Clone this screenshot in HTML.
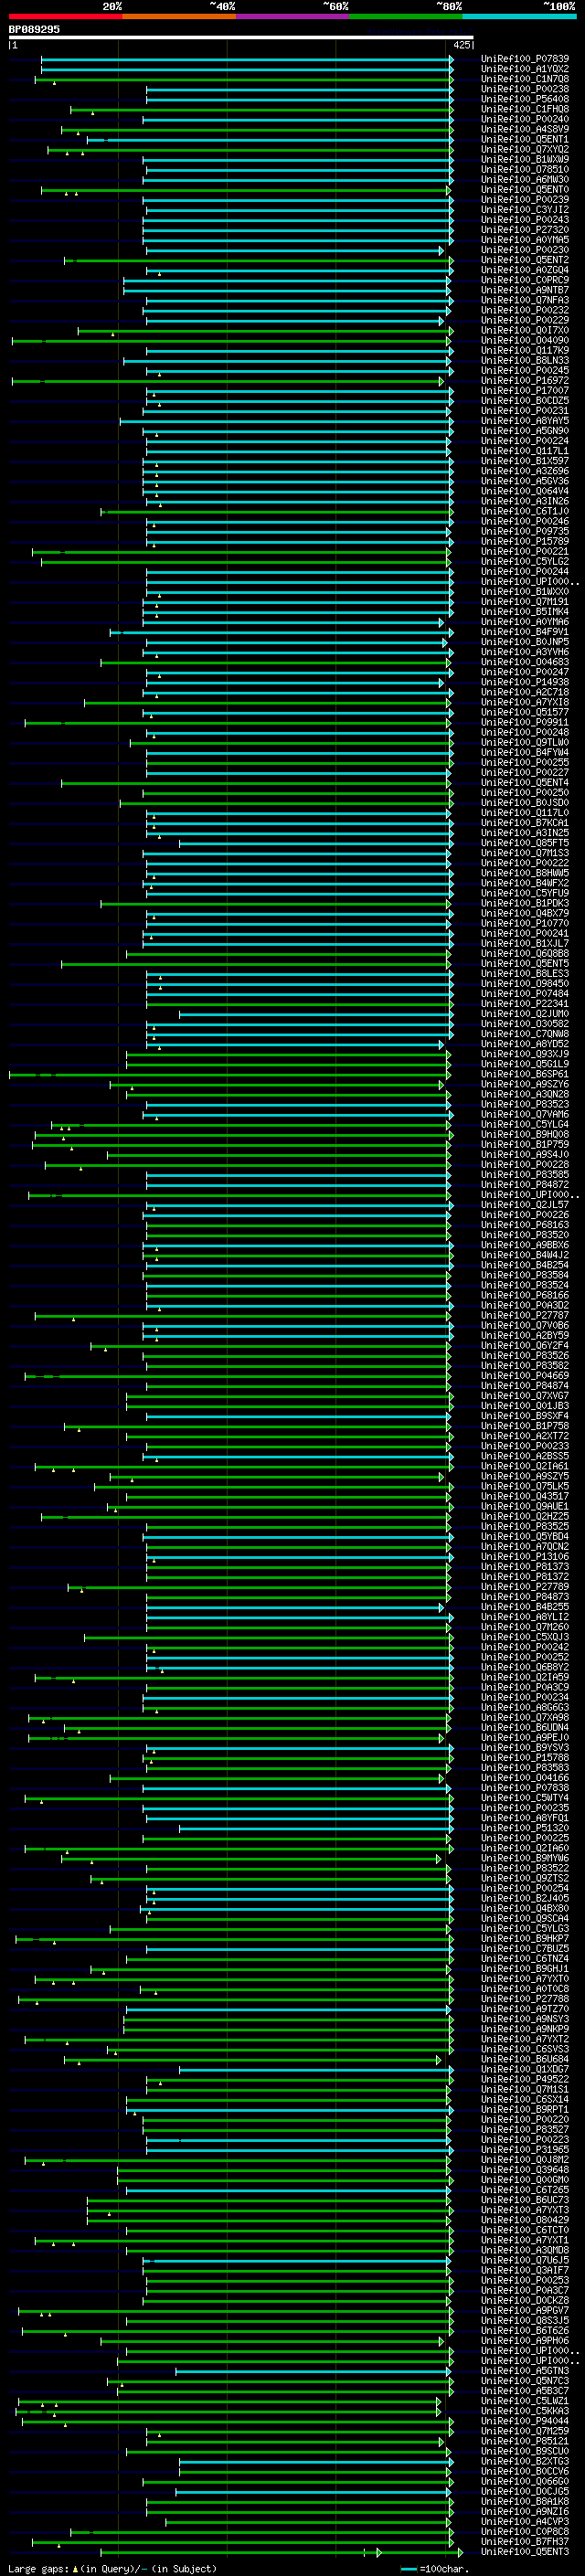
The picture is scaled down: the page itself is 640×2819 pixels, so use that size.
<!DOCTYPE html><html><head><meta charset="utf-8"><title>AlignView</title><style>html,body{margin:0;padding:0;background:#000;overflow:hidden;font-family:"Liberation Mono",monospace;}svg{display:block;}</style></head><body><svg width="640" height="2819" viewBox="0 0 640 2819" shape-rendering="crispEdges"><defs><symbol id="pre" overflow="visible"><path d="M0 3h1v1h-1zM4 3h1v1h-1zM0 4h1v1h-1zM4 4h1v1h-1zM0 5h1v1h-1zM4 5h1v1h-1zM0 6h1v1h-1zM4 6h1v1h-1zM0 7h1v1h-1zM4 7h1v1h-1zM0 8h1v1h-1zM4 8h1v1h-1zM0 9h1v1h-1zM4 9h1v1h-1zM1 10h3v1h-3zM6 5h1v1h-1zM8 5h2v1h-2zM6 6h2v1h-2zM10 6h1v1h-1zM6 7h1v1h-1zM10 7h1v1h-1zM6 8h1v1h-1zM10 8h1v1h-1zM6 9h1v1h-1zM10 9h1v1h-1zM6 10h1v1h-1zM10 10h1v1h-1zM14 3h1v1h-1zM13 5h2v1h-2zM14 6h1v1h-1zM14 7h1v1h-1zM14 8h1v1h-1zM14 9h1v1h-1zM13 10h3v1h-3zM18 3h4v1h-4zM18 4h1v1h-1zM22 4h1v1h-1zM18 5h1v1h-1zM22 5h1v1h-1zM18 6h1v1h-1zM22 6h1v1h-1zM18 7h4v1h-4zM18 8h1v1h-1zM20 8h1v1h-1zM18 9h1v1h-1zM21 9h1v1h-1zM18 10h1v1h-1zM22 10h1v1h-1zM25 5h3v1h-3zM24 6h1v1h-1zM28 6h1v1h-1zM24 7h5v1h-5zM24 8h1v1h-1zM24 9h1v1h-1zM25 10h3v1h-3zM32 3h2v1h-2zM31 4h1v1h-1zM34 4h1v1h-1zM31 5h1v1h-1zM31 6h1v1h-1zM30 7h4v1h-4zM31 8h1v1h-1zM31 9h1v1h-1zM31 10h1v1h-1zM38 3h1v1h-1zM37 4h2v1h-2zM36 5h1v1h-1zM38 5h1v1h-1zM38 6h1v1h-1zM38 7h1v1h-1zM38 8h1v1h-1zM38 9h1v1h-1zM36 10h5v1h-5zM44 3h1v1h-1zM43 4h1v1h-1zM45 4h1v1h-1zM42 5h1v1h-1zM46 5h1v1h-1zM42 6h1v1h-1zM46 6h1v1h-1zM42 7h1v1h-1zM46 7h1v1h-1zM42 8h1v1h-1zM46 8h1v1h-1zM43 9h1v1h-1zM45 9h1v1h-1zM44 10h1v1h-1zM50 3h1v1h-1zM49 4h1v1h-1zM51 4h1v1h-1zM48 5h1v1h-1zM52 5h1v1h-1zM48 6h1v1h-1zM52 6h1v1h-1zM48 7h1v1h-1zM52 7h1v1h-1zM48 8h1v1h-1zM52 8h1v1h-1zM49 9h1v1h-1zM51 9h1v1h-1zM50 10h1v1h-1zM54 11h5v1h-5z"/></symbol><symbol id="m50" overflow="visible"><path d="M1 3h4v1h-4zM0 4h2v1h-2zM4 4h2v1h-2zM0 5h2v1h-2zM4 5h2v1h-2zM4 6h2v1h-2zM2 7h3v1h-3zM1 8h2v1h-2zM0 9h2v1h-2zM0 10h6v1h-6z"/></symbol><symbol id="m48" overflow="visible"><path d="M1 3h4v1h-4zM0 4h2v1h-2zM4 4h2v1h-2zM0 5h2v1h-2zM4 5h2v1h-2zM0 6h2v1h-2zM3 6h3v1h-3zM0 7h3v1h-3zM4 7h2v1h-2zM0 8h2v1h-2zM4 8h2v1h-2zM0 9h2v1h-2zM4 9h2v1h-2zM1 10h4v1h-4z"/></symbol><symbol id="m37" overflow="visible"><path d="M0 2h3v1h-3zM5 2h1v1h-1zM0 3h1v1h-1zM2 3h1v1h-1zM4 3h2v1h-2zM0 4h3v1h-3zM4 4h1v1h-1zM3 5h2v1h-2zM2 6h2v1h-2zM1 7h2v1h-2zM1 8h1v1h-1zM3 8h3v1h-3zM0 9h2v1h-2zM3 9h1v1h-1zM5 9h1v1h-1zM0 10h1v1h-1zM3 10h3v1h-3z"/></symbol><symbol id="m126" overflow="visible"><path d="M1 2h2v1h-2zM5 2h1v1h-1zM0 3h6v1h-6zM0 4h1v1h-1zM3 4h2v1h-2z"/></symbol><symbol id="m52" overflow="visible"><path d="M4 3h2v1h-2zM3 4h3v1h-3zM2 5h4v1h-4zM1 6h2v1h-2zM4 6h2v1h-2zM0 7h2v1h-2zM4 7h2v1h-2zM0 8h6v1h-6zM4 9h2v1h-2zM4 10h2v1h-2z"/></symbol><symbol id="m54" overflow="visible"><path d="M1 3h4v1h-4zM0 4h2v1h-2zM4 4h2v1h-2zM0 5h2v1h-2zM0 6h5v1h-5zM0 7h2v1h-2zM4 7h2v1h-2zM0 8h2v1h-2zM4 8h2v1h-2zM0 9h2v1h-2zM4 9h2v1h-2zM1 10h4v1h-4z"/></symbol><symbol id="m56" overflow="visible"><path d="M1 3h4v1h-4zM0 4h2v1h-2zM4 4h2v1h-2zM0 5h2v1h-2zM4 5h2v1h-2zM1 6h4v1h-4zM0 7h2v1h-2zM4 7h2v1h-2zM0 8h2v1h-2zM4 8h2v1h-2zM0 9h2v1h-2zM4 9h2v1h-2zM1 10h4v1h-4z"/></symbol><symbol id="m49" overflow="visible"><path d="M2 3h2v1h-2zM1 4h3v1h-3zM0 5h1v1h-1zM2 5h2v1h-2zM2 6h2v1h-2zM2 7h2v1h-2zM2 8h2v1h-2zM2 9h2v1h-2zM0 10h6v1h-6z"/></symbol><symbol id="m66" overflow="visible"><path d="M0 3h5v1h-5zM0 4h2v1h-2zM4 4h2v1h-2zM0 5h2v1h-2zM4 5h2v1h-2zM0 6h5v1h-5zM0 7h2v1h-2zM4 7h2v1h-2zM0 8h2v1h-2zM4 8h2v1h-2zM0 9h2v1h-2zM4 9h2v1h-2zM0 10h5v1h-5z"/></symbol><symbol id="m80" overflow="visible"><path d="M0 3h5v1h-5zM0 4h2v1h-2zM4 4h2v1h-2zM0 5h2v1h-2zM4 5h2v1h-2zM0 6h5v1h-5zM0 7h2v1h-2zM0 8h2v1h-2zM0 9h2v1h-2zM0 10h2v1h-2z"/></symbol><symbol id="m57" overflow="visible"><path d="M1 3h4v1h-4zM0 4h2v1h-2zM4 4h2v1h-2zM0 5h2v1h-2zM4 5h2v1h-2zM0 6h2v1h-2zM4 6h2v1h-2zM1 7h5v1h-5zM4 8h2v1h-2zM0 9h2v1h-2zM4 9h2v1h-2zM1 10h4v1h-4z"/></symbol><symbol id="m53" overflow="visible"><path d="M0 3h6v1h-6zM0 4h2v1h-2zM0 5h5v1h-5zM0 6h2v1h-2zM4 6h2v1h-2zM4 7h2v1h-2zM4 8h2v1h-2zM0 9h2v1h-2zM4 9h2v1h-2zM1 10h4v1h-4z"/></symbol><symbol id="t65" overflow="visible"><path d="M1 1h2v1h-2zM0 2h1v1h-1zM3 2h1v1h-1zM0 3h1v1h-1zM3 3h1v1h-1zM0 4h4v1h-4zM0 5h1v1h-1zM3 5h1v1h-1zM0 6h1v1h-1zM3 6h1v1h-1z"/></symbol><symbol id="t108" overflow="visible"><path d="M1 1h2v1h-2zM2 2h1v1h-1zM2 3h1v1h-1zM2 4h1v1h-1zM2 5h1v1h-1zM1 6h3v1h-3z"/></symbol><symbol id="t105" overflow="visible"><path d="M2 1h1v1h-1zM1 3h2v1h-2zM2 4h1v1h-1zM2 5h1v1h-1zM1 6h3v1h-3z"/></symbol><symbol id="t103" overflow="visible"><path d="M1 3h3v1h-3zM0 4h1v1h-1zM3 4h1v1h-1zM1 5h3v1h-3zM3 6h1v1h-1zM1 7h2v1h-2z"/></symbol><symbol id="t110" overflow="visible"><path d="M0 3h1v1h-1zM2 3h1v1h-1zM0 4h2v1h-2zM3 4h1v1h-1zM0 5h1v1h-1zM3 5h1v1h-1zM0 6h1v1h-1zM3 6h1v1h-1z"/></symbol><symbol id="t86" overflow="visible"><path d="M0 1h1v1h-1zM3 1h1v1h-1zM0 2h1v1h-1zM3 2h1v1h-1zM0 3h1v1h-1zM3 3h1v1h-1zM0 4h1v1h-1zM3 4h1v1h-1zM1 5h2v1h-2zM1 6h2v1h-2z"/></symbol><symbol id="t101" overflow="visible"><path d="M1 3h2v1h-2zM0 4h1v1h-1zM2 4h2v1h-2zM0 5h2v1h-2zM1 6h3v1h-3z"/></symbol><symbol id="t119" overflow="visible"><path d="M0 3h1v1h-1zM4 3h1v1h-1zM0 4h1v1h-1zM2 4h1v1h-1zM4 4h1v1h-1zM0 5h1v1h-1zM2 5h1v1h-1zM4 5h1v1h-1zM1 6h3v1h-3z"/></symbol><symbol id="t46" overflow="visible"><path d="M1 5h2v1h-2zM1 6h2v1h-2z"/></symbol><symbol id="t112" overflow="visible"><path d="M0 3h3v1h-3zM0 4h1v1h-1zM3 4h1v1h-1zM0 5h3v1h-3zM0 6h1v1h-1zM0 7h1v1h-1z"/></symbol><symbol id="t109" overflow="visible"><path d="M0 3h2v1h-2zM3 3h1v1h-1zM0 4h1v1h-1zM2 4h1v1h-1zM4 4h1v1h-1zM0 5h1v1h-1zM2 5h1v1h-1zM4 5h1v1h-1zM0 6h1v1h-1zM4 6h1v1h-1z"/></symbol><symbol id="t66" overflow="visible"><path d="M0 1h3v1h-3zM0 2h1v1h-1zM3 2h1v1h-1zM0 3h3v1h-3zM0 4h1v1h-1zM3 4h1v1h-1zM0 5h1v1h-1zM3 5h1v1h-1zM0 6h3v1h-3z"/></symbol><symbol id="t116" overflow="visible"><path d="M1 1h1v1h-1zM1 2h1v1h-1zM0 3h3v1h-3zM1 4h1v1h-1zM1 5h1v1h-1zM3 5h1v1h-1zM2 6h1v1h-1z"/></symbol><symbol id="t97" overflow="visible"><path d="M1 3h3v1h-3zM0 4h1v1h-1zM3 4h1v1h-1zM0 5h1v1h-1zM2 5h2v1h-2zM1 6h1v1h-1zM3 6h1v1h-1z"/></symbol><symbol id="t114" overflow="visible"><path d="M0 3h1v1h-1zM2 3h1v1h-1zM0 4h2v1h-2zM3 4h1v1h-1zM0 5h1v1h-1zM0 6h1v1h-1z"/></symbol><symbol id="t55" overflow="visible"><path d="M0 1h4v1h-4zM3 2h1v1h-1zM2 3h1v1h-1zM2 4h1v1h-1zM1 5h1v1h-1zM1 6h1v1h-1z"/></symbol><symbol id="s124" overflow="visible"><path d="M2 3h1v1h-1zM2 4h1v1h-1zM2 5h1v1h-1zM2 6h1v1h-1zM2 7h1v1h-1zM2 8h1v1h-1zM2 9h1v1h-1zM2 10h1v1h-1zM2 11h1v1h-1z"/></symbol><symbol id="s49" overflow="visible"><path d="M2 3h1v1h-1zM1 4h2v1h-2zM0 5h1v1h-1zM2 5h1v1h-1zM2 6h1v1h-1zM2 7h1v1h-1zM2 8h1v1h-1zM2 9h1v1h-1zM0 10h5v1h-5z"/></symbol><symbol id="s52" overflow="visible"><path d="M3 3h1v1h-1zM2 4h2v1h-2zM1 5h1v1h-1zM3 5h1v1h-1zM0 6h1v1h-1zM3 6h1v1h-1zM0 7h1v1h-1zM3 7h1v1h-1zM0 8h5v1h-5zM3 9h1v1h-1zM3 10h1v1h-1z"/></symbol><symbol id="s50" overflow="visible"><path d="M1 3h3v1h-3zM0 4h1v1h-1zM4 4h1v1h-1zM4 5h1v1h-1zM3 6h1v1h-1zM2 7h1v1h-1zM1 8h1v1h-1zM0 9h1v1h-1zM0 10h5v1h-5z"/></symbol><symbol id="s53" overflow="visible"><path d="M0 3h5v1h-5zM0 4h1v1h-1zM0 5h4v1h-4zM0 6h1v1h-1zM4 6h1v1h-1zM4 7h1v1h-1zM4 8h1v1h-1zM0 9h1v1h-1zM4 9h1v1h-1zM1 10h3v1h-3z"/></symbol><symbol id="s80" overflow="visible"><path d="M0 3h4v1h-4zM0 4h1v1h-1zM4 4h1v1h-1zM0 5h1v1h-1zM4 5h1v1h-1zM0 6h1v1h-1zM4 6h1v1h-1zM0 7h4v1h-4zM0 8h1v1h-1zM0 9h1v1h-1zM0 10h1v1h-1z"/></symbol><symbol id="s48" overflow="visible"><path d="M2 3h1v1h-1zM1 4h1v1h-1zM3 4h1v1h-1zM0 5h1v1h-1zM4 5h1v1h-1zM0 6h1v1h-1zM4 6h1v1h-1zM0 7h1v1h-1zM4 7h1v1h-1zM0 8h1v1h-1zM4 8h1v1h-1zM1 9h1v1h-1zM3 9h1v1h-1zM2 10h1v1h-1z"/></symbol><symbol id="s55" overflow="visible"><path d="M0 3h5v1h-5zM4 4h1v1h-1zM3 5h1v1h-1zM3 6h1v1h-1zM2 7h1v1h-1zM2 8h1v1h-1zM1 9h1v1h-1zM1 10h1v1h-1z"/></symbol><symbol id="s56" overflow="visible"><path d="M1 3h3v1h-3zM0 4h1v1h-1zM4 4h1v1h-1zM0 5h1v1h-1zM4 5h1v1h-1zM1 6h3v1h-3zM0 7h1v1h-1zM4 7h1v1h-1zM0 8h1v1h-1zM4 8h1v1h-1zM0 9h1v1h-1zM4 9h1v1h-1zM1 10h3v1h-3z"/></symbol><symbol id="s51" overflow="visible"><path d="M1 3h3v1h-3zM0 4h1v1h-1zM4 4h1v1h-1zM4 5h1v1h-1zM2 6h2v1h-2zM4 7h1v1h-1zM4 8h1v1h-1zM0 9h1v1h-1zM4 9h1v1h-1zM1 10h3v1h-3z"/></symbol><symbol id="s57" overflow="visible"><path d="M1 3h3v1h-3zM0 4h1v1h-1zM4 4h1v1h-1zM0 5h1v1h-1zM4 5h1v1h-1zM0 6h1v1h-1zM4 6h1v1h-1zM1 7h4v1h-4zM4 8h1v1h-1zM3 9h1v1h-1zM0 10h3v1h-3z"/></symbol><symbol id="s65" overflow="visible"><path d="M2 3h1v1h-1zM1 4h1v1h-1zM3 4h1v1h-1zM0 5h1v1h-1zM4 5h1v1h-1zM0 6h1v1h-1zM4 6h1v1h-1zM0 7h5v1h-5zM0 8h1v1h-1zM4 8h1v1h-1zM0 9h1v1h-1zM4 9h1v1h-1zM0 10h1v1h-1zM4 10h1v1h-1z"/></symbol><symbol id="s89" overflow="visible"><path d="M0 3h1v1h-1zM4 3h1v1h-1zM0 4h1v1h-1zM4 4h1v1h-1zM1 5h1v1h-1zM3 5h1v1h-1zM1 6h1v1h-1zM3 6h1v1h-1zM2 7h1v1h-1zM2 8h1v1h-1zM2 9h1v1h-1zM2 10h1v1h-1z"/></symbol><symbol id="s81" overflow="visible"><path d="M1 3h3v1h-3zM0 4h1v1h-1zM4 4h1v1h-1zM0 5h1v1h-1zM4 5h1v1h-1zM0 6h1v1h-1zM4 6h1v1h-1zM0 7h1v1h-1zM4 7h1v1h-1zM0 8h1v1h-1zM4 8h1v1h-1zM0 9h1v1h-1zM2 9h1v1h-1zM4 9h1v1h-1zM1 10h3v1h-3zM4 11h1v1h-1z"/></symbol><symbol id="s88" overflow="visible"><path d="M0 3h1v1h-1zM4 3h1v1h-1zM0 4h1v1h-1zM4 4h1v1h-1zM1 5h1v1h-1zM3 5h1v1h-1zM2 6h1v1h-1zM2 7h1v1h-1zM1 8h1v1h-1zM3 8h1v1h-1zM0 9h1v1h-1zM4 9h1v1h-1zM0 10h1v1h-1zM4 10h1v1h-1z"/></symbol><symbol id="s67" overflow="visible"><path d="M1 3h3v1h-3zM0 4h1v1h-1zM4 4h1v1h-1zM0 5h1v1h-1zM0 6h1v1h-1zM0 7h1v1h-1zM0 8h1v1h-1zM0 9h1v1h-1zM4 9h1v1h-1zM1 10h3v1h-3z"/></symbol><symbol id="s78" overflow="visible"><path d="M0 3h1v1h-1zM4 3h1v1h-1zM0 4h2v1h-2zM4 4h1v1h-1zM0 5h2v1h-2zM4 5h1v1h-1zM0 6h1v1h-1zM2 6h1v1h-1zM4 6h1v1h-1zM0 7h1v1h-1zM2 7h1v1h-1zM4 7h1v1h-1zM0 8h1v1h-1zM3 8h2v1h-2zM0 9h1v1h-1zM3 9h2v1h-2zM0 10h1v1h-1zM4 10h1v1h-1z"/></symbol><symbol id="s54" overflow="visible"><path d="M2 3h3v1h-3zM1 4h1v1h-1zM0 5h1v1h-1zM0 6h4v1h-4zM0 7h1v1h-1zM4 7h1v1h-1zM0 8h1v1h-1zM4 8h1v1h-1zM0 9h1v1h-1zM4 9h1v1h-1zM1 10h3v1h-3z"/></symbol><symbol id="s70" overflow="visible"><path d="M0 3h5v1h-5zM0 4h1v1h-1zM0 5h1v1h-1zM0 6h4v1h-4zM0 7h1v1h-1zM0 8h1v1h-1zM0 9h1v1h-1zM0 10h1v1h-1z"/></symbol><symbol id="s72" overflow="visible"><path d="M0 3h1v1h-1zM4 3h1v1h-1zM0 4h1v1h-1zM4 4h1v1h-1zM0 5h1v1h-1zM4 5h1v1h-1zM0 6h5v1h-5zM0 7h1v1h-1zM4 7h1v1h-1zM0 8h1v1h-1zM4 8h1v1h-1zM0 9h1v1h-1zM4 9h1v1h-1zM0 10h1v1h-1zM4 10h1v1h-1z"/></symbol><symbol id="s83" overflow="visible"><path d="M1 3h3v1h-3zM0 4h1v1h-1zM4 4h1v1h-1zM0 5h1v1h-1zM1 6h2v1h-2zM3 7h1v1h-1zM4 8h1v1h-1zM0 9h1v1h-1zM4 9h1v1h-1zM1 10h3v1h-3z"/></symbol><symbol id="s86" overflow="visible"><path d="M0 3h1v1h-1zM4 3h1v1h-1zM0 4h1v1h-1zM4 4h1v1h-1zM0 5h1v1h-1zM4 5h1v1h-1zM1 6h1v1h-1zM3 6h1v1h-1zM1 7h1v1h-1zM3 7h1v1h-1zM1 8h1v1h-1zM3 8h1v1h-1zM2 9h1v1h-1zM2 10h1v1h-1z"/></symbol><symbol id="s69" overflow="visible"><path d="M0 3h5v1h-5zM0 4h1v1h-1zM0 5h1v1h-1zM0 6h4v1h-4zM0 7h1v1h-1zM0 8h1v1h-1zM0 9h1v1h-1zM0 10h5v1h-5z"/></symbol><symbol id="s84" overflow="visible"><path d="M0 3h5v1h-5zM2 4h1v1h-1zM2 5h1v1h-1zM2 6h1v1h-1zM2 7h1v1h-1zM2 8h1v1h-1zM2 9h1v1h-1zM2 10h1v1h-1z"/></symbol><symbol id="s66" overflow="visible"><path d="M0 3h4v1h-4zM0 4h1v1h-1zM4 4h1v1h-1zM0 5h1v1h-1zM4 5h1v1h-1zM0 6h4v1h-4zM0 7h1v1h-1zM4 7h1v1h-1zM0 8h1v1h-1zM4 8h1v1h-1zM0 9h1v1h-1zM4 9h1v1h-1zM0 10h4v1h-4z"/></symbol><symbol id="s87" overflow="visible"><path d="M0 3h1v1h-1zM4 3h1v1h-1zM0 4h1v1h-1zM4 4h1v1h-1zM0 5h1v1h-1zM2 5h1v1h-1zM4 5h1v1h-1zM0 6h1v1h-1zM2 6h1v1h-1zM4 6h1v1h-1zM0 7h1v1h-1zM2 7h1v1h-1zM4 7h1v1h-1zM0 8h1v1h-1zM2 8h1v1h-1zM4 8h1v1h-1zM0 9h2v1h-2zM3 9h2v1h-2zM1 10h1v1h-1zM3 10h1v1h-1z"/></symbol><symbol id="s79" overflow="visible"><path d="M1 3h3v1h-3zM0 4h1v1h-1zM4 4h1v1h-1zM0 5h1v1h-1zM4 5h1v1h-1zM0 6h1v1h-1zM4 6h1v1h-1zM0 7h1v1h-1zM4 7h1v1h-1zM0 8h1v1h-1zM4 8h1v1h-1zM0 9h1v1h-1zM4 9h1v1h-1zM1 10h3v1h-3z"/></symbol><symbol id="s77" overflow="visible"><path d="M0 3h1v1h-1zM4 3h1v1h-1zM0 4h2v1h-2zM3 4h2v1h-2zM0 5h1v1h-1zM2 5h1v1h-1zM4 5h1v1h-1zM0 6h1v1h-1zM2 6h1v1h-1zM4 6h1v1h-1zM0 7h1v1h-1zM4 7h1v1h-1zM0 8h1v1h-1zM4 8h1v1h-1zM0 9h1v1h-1zM4 9h1v1h-1zM0 10h1v1h-1zM4 10h1v1h-1z"/></symbol><symbol id="s74" overflow="visible"><path d="M3 3h1v1h-1zM3 4h1v1h-1zM3 5h1v1h-1zM3 6h1v1h-1zM3 7h1v1h-1zM3 8h1v1h-1zM0 9h1v1h-1zM3 9h1v1h-1zM1 10h2v1h-2z"/></symbol><symbol id="s73" overflow="visible"><path d="M1 3h3v1h-3zM2 4h1v1h-1zM2 5h1v1h-1zM2 6h1v1h-1zM2 7h1v1h-1zM2 8h1v1h-1zM2 9h1v1h-1zM1 10h3v1h-3z"/></symbol><symbol id="s90" overflow="visible"><path d="M0 3h5v1h-5zM4 4h1v1h-1zM3 5h1v1h-1zM2 6h1v1h-1zM2 7h1v1h-1zM1 8h1v1h-1zM0 9h1v1h-1zM0 10h5v1h-5z"/></symbol><symbol id="s71" overflow="visible"><path d="M1 3h3v1h-3zM0 4h1v1h-1zM4 4h1v1h-1zM0 5h1v1h-1zM0 6h1v1h-1zM0 7h1v1h-1zM3 7h2v1h-2zM0 8h1v1h-1zM4 8h1v1h-1zM0 9h1v1h-1zM4 9h1v1h-1zM1 10h3v1h-3z"/></symbol><symbol id="s82" overflow="visible"><path d="M0 3h4v1h-4zM0 4h1v1h-1zM4 4h1v1h-1zM0 5h1v1h-1zM4 5h1v1h-1zM0 6h1v1h-1zM4 6h1v1h-1zM0 7h4v1h-4zM0 8h1v1h-1zM2 8h1v1h-1zM0 9h1v1h-1zM3 9h1v1h-1zM0 10h1v1h-1zM4 10h1v1h-1z"/></symbol><symbol id="s75" overflow="visible"><path d="M0 3h1v1h-1zM4 3h1v1h-1zM0 4h1v1h-1zM4 4h1v1h-1zM0 5h1v1h-1zM3 5h1v1h-1zM0 6h1v1h-1zM2 6h1v1h-1zM0 7h3v1h-3zM0 8h1v1h-1zM3 8h1v1h-1zM0 9h1v1h-1zM4 9h1v1h-1zM0 10h1v1h-1zM4 10h1v1h-1z"/></symbol><symbol id="s76" overflow="visible"><path d="M0 3h1v1h-1zM0 4h1v1h-1zM0 5h1v1h-1zM0 6h1v1h-1zM0 7h1v1h-1zM0 8h1v1h-1zM0 9h1v1h-1zM0 10h5v1h-5z"/></symbol><symbol id="s68" overflow="visible"><path d="M0 3h4v1h-4zM0 4h1v1h-1zM4 4h1v1h-1zM0 5h1v1h-1zM4 5h1v1h-1zM0 6h1v1h-1zM4 6h1v1h-1zM0 7h1v1h-1zM4 7h1v1h-1zM0 8h1v1h-1zM4 8h1v1h-1zM0 9h1v1h-1zM4 9h1v1h-1zM0 10h4v1h-4z"/></symbol><symbol id="s85" overflow="visible"><path d="M0 3h1v1h-1zM4 3h1v1h-1zM0 4h1v1h-1zM4 4h1v1h-1zM0 5h1v1h-1zM4 5h1v1h-1zM0 6h1v1h-1zM4 6h1v1h-1zM0 7h1v1h-1zM4 7h1v1h-1zM0 8h1v1h-1zM4 8h1v1h-1zM0 9h1v1h-1zM4 9h1v1h-1zM1 10h3v1h-3z"/></symbol><symbol id="s46" overflow="visible"><path d="M2 9h2v1h-2zM2 10h2v1h-2z"/></symbol><symbol id="s97" overflow="visible"><path d="M1 5h3v1h-3zM4 6h1v1h-1zM1 7h4v1h-4zM0 8h1v1h-1zM4 8h1v1h-1zM0 9h1v1h-1zM3 9h2v1h-2zM1 10h2v1h-2zM4 10h1v1h-1z"/></symbol><symbol id="s114" overflow="visible"><path d="M0 5h1v1h-1zM2 5h2v1h-2zM0 6h2v1h-2zM4 6h1v1h-1zM0 7h1v1h-1zM0 8h1v1h-1zM0 9h1v1h-1zM0 10h1v1h-1z"/></symbol><symbol id="s103" overflow="visible"><path d="M4 4h1v1h-1zM1 5h3v1h-3zM0 6h1v1h-1zM4 6h1v1h-1zM0 7h1v1h-1zM4 7h1v1h-1zM1 8h3v1h-3zM0 9h1v1h-1zM1 10h3v1h-3zM0 11h1v1h-1zM4 11h1v1h-1zM1 12h3v1h-3z"/></symbol><symbol id="s101" overflow="visible"><path d="M1 5h3v1h-3zM0 6h1v1h-1zM4 6h1v1h-1zM0 7h5v1h-5zM0 8h1v1h-1zM0 9h1v1h-1zM1 10h3v1h-3z"/></symbol><symbol id="s112" overflow="visible"><path d="M0 5h1v1h-1zM2 5h2v1h-2zM0 6h2v1h-2zM4 6h1v1h-1zM0 7h1v1h-1zM4 7h1v1h-1zM0 8h1v1h-1zM4 8h1v1h-1zM0 9h2v1h-2zM4 9h1v1h-1zM0 10h1v1h-1zM2 10h2v1h-2zM0 11h1v1h-1zM0 12h1v1h-1z"/></symbol><symbol id="s115" overflow="visible"><path d="M1 5h3v1h-3zM0 6h1v1h-1zM4 6h1v1h-1zM1 7h2v1h-2zM3 8h1v1h-1zM0 9h1v1h-1zM4 9h1v1h-1zM1 10h3v1h-3z"/></symbol><symbol id="s58" overflow="visible"><path d="M2 5h2v1h-2zM2 6h2v1h-2zM2 9h2v1h-2zM2 10h2v1h-2z"/></symbol><symbol id="s40" overflow="visible"><path d="M3 3h1v1h-1zM2 4h1v1h-1zM1 5h1v1h-1zM1 6h1v1h-1zM1 7h1v1h-1zM1 8h1v1h-1zM2 9h1v1h-1zM3 10h1v1h-1z"/></symbol><symbol id="s105" overflow="visible"><path d="M2 3h1v1h-1zM1 5h2v1h-2zM2 6h1v1h-1zM2 7h1v1h-1zM2 8h1v1h-1zM2 9h1v1h-1zM1 10h3v1h-3z"/></symbol><symbol id="s110" overflow="visible"><path d="M0 5h1v1h-1zM2 5h2v1h-2zM0 6h2v1h-2zM4 6h1v1h-1zM0 7h1v1h-1zM4 7h1v1h-1zM0 8h1v1h-1zM4 8h1v1h-1zM0 9h1v1h-1zM4 9h1v1h-1zM0 10h1v1h-1zM4 10h1v1h-1z"/></symbol><symbol id="s117" overflow="visible"><path d="M0 5h1v1h-1zM4 5h1v1h-1zM0 6h1v1h-1zM4 6h1v1h-1zM0 7h1v1h-1zM4 7h1v1h-1zM0 8h1v1h-1zM4 8h1v1h-1zM0 9h1v1h-1zM3 9h2v1h-2zM1 10h2v1h-2zM4 10h1v1h-1z"/></symbol><symbol id="s121" overflow="visible"><path d="M0 5h1v1h-1zM4 5h1v1h-1zM0 6h1v1h-1zM4 6h1v1h-1zM0 7h1v1h-1zM4 7h1v1h-1zM0 8h1v1h-1zM3 8h2v1h-2zM1 9h2v1h-2zM4 9h1v1h-1zM4 10h1v1h-1zM3 11h1v1h-1zM0 12h3v1h-3z"/></symbol><symbol id="s41" overflow="visible"><path d="M1 3h1v1h-1zM2 4h1v1h-1zM3 5h1v1h-1zM3 6h1v1h-1zM3 7h1v1h-1zM3 8h1v1h-1zM2 9h1v1h-1zM1 10h1v1h-1z"/></symbol><symbol id="s47" overflow="visible"><path d="M4 3h1v1h-1zM4 4h1v1h-1zM3 5h1v1h-1zM3 6h1v1h-1zM2 7h1v1h-1zM1 8h1v1h-1zM1 9h1v1h-1zM0 10h1v1h-1zM0 11h1v1h-1z"/></symbol><symbol id="s98" overflow="visible"><path d="M0 3h1v1h-1zM0 4h1v1h-1zM0 5h1v1h-1zM2 5h2v1h-2zM0 6h2v1h-2zM4 6h1v1h-1zM0 7h1v1h-1zM4 7h1v1h-1zM0 8h1v1h-1zM4 8h1v1h-1zM0 9h2v1h-2zM4 9h1v1h-1zM0 10h1v1h-1zM2 10h2v1h-2z"/></symbol><symbol id="s106" overflow="visible"><path d="M3 3h1v1h-1zM2 5h2v1h-2zM3 6h1v1h-1zM3 7h1v1h-1zM3 8h1v1h-1zM3 9h1v1h-1zM0 10h1v1h-1zM3 10h1v1h-1zM0 11h1v1h-1zM3 11h1v1h-1zM1 12h2v1h-2z"/></symbol><symbol id="s99" overflow="visible"><path d="M1 5h3v1h-3zM0 6h1v1h-1zM4 6h1v1h-1zM0 7h1v1h-1zM0 8h1v1h-1zM0 9h1v1h-1zM4 9h1v1h-1zM1 10h3v1h-3z"/></symbol><symbol id="s116" overflow="visible"><path d="M1 3h1v1h-1zM1 4h1v1h-1zM0 5h4v1h-4zM1 6h1v1h-1zM1 7h1v1h-1zM1 8h1v1h-1zM1 9h1v1h-1zM4 9h1v1h-1zM2 10h2v1h-2z"/></symbol><symbol id="s61" overflow="visible"><path d="M0 5h5v1h-5zM0 8h5v1h-5z"/></symbol><symbol id="s104" overflow="visible"><path d="M0 3h1v1h-1zM0 4h1v1h-1zM0 5h1v1h-1zM2 5h2v1h-2zM0 6h2v1h-2zM4 6h1v1h-1zM0 7h1v1h-1zM4 7h1v1h-1zM0 8h1v1h-1zM4 8h1v1h-1zM0 9h1v1h-1zM4 9h1v1h-1zM0 10h1v1h-1zM4 10h1v1h-1z"/></symbol></defs><rect x="0" y="0" width="640" height="2819" fill="#000"/><rect x="10" y="15" width="124" height="6" fill="#ff0022"/><g fill="#fff"><use href="#m50" x="113" y="0"/><use href="#m48" x="120" y="0"/><use href="#m37" x="127" y="0"/></g><rect x="134" y="15" width="124" height="6" fill="#e06000"/><g fill="#fff"><use href="#m126" x="230" y="0"/><use href="#m52" x="237" y="0"/><use href="#m48" x="244" y="0"/><use href="#m37" x="251" y="0"/></g><rect x="258" y="15" width="124" height="6" fill="#a020a0"/><g fill="#fff"><use href="#m126" x="354" y="0"/><use href="#m54" x="361" y="0"/><use href="#m48" x="368" y="0"/><use href="#m37" x="375" y="0"/></g><rect x="382" y="15" width="124" height="6" fill="#00a000"/><g fill="#fff"><use href="#m126" x="478" y="0"/><use href="#m56" x="485" y="0"/><use href="#m48" x="492" y="0"/><use href="#m37" x="499" y="0"/></g><rect x="506" y="15" width="125" height="6" fill="#00c8c8"/><g fill="#fff"><use href="#m126" x="595" y="0"/><use href="#m49" x="602" y="0"/><use href="#m48" x="609" y="0"/><use href="#m48" x="616" y="0"/><use href="#m37" x="623" y="0"/></g><g fill="#fff"><use href="#m66" x="10" y="25"/><use href="#m80" x="17" y="25"/><use href="#m48" x="24" y="25"/><use href="#m56" x="31" y="25"/><use href="#m57" x="38" y="25"/><use href="#m50" x="45" y="25"/><use href="#m57" x="52" y="25"/><use href="#m53" x="59" y="25"/></g><g fill="#000040"><use href="#t65" x="402" y="30"/><use href="#t108" x="407" y="30"/><use href="#t105" x="412" y="30"/><use href="#t103" x="417" y="30"/><use href="#t110" x="422" y="30"/><use href="#t86" x="427" y="30"/><use href="#t105" x="432" y="30"/><use href="#t101" x="437" y="30"/><use href="#t119" x="442" y="30"/><use href="#t46" x="447" y="30"/><use href="#t112" x="452" y="30"/><use href="#t109" x="457" y="30"/><use href="#t66" x="467" y="30"/><use href="#t101" x="472" y="30"/><use href="#t116" x="477" y="30"/><use href="#t97" x="482" y="30"/><use href="#t114" x="492" y="30"/><use href="#t101" x="497" y="30"/><use href="#t108" x="502" y="30"/><use href="#t46" x="507" y="30"/><use href="#t55" x="512" y="30"/></g><rect x="10" y="39" width="508" height="4" fill="#fff"/><g fill="#fff"><use href="#s124" x="8" y="42"/><use href="#s49" x="14" y="42"/></g><g fill="#fff"><use href="#s52" x="497" y="42"/><use href="#s50" x="503" y="42"/><use href="#s53" x="509" y="42"/><use href="#s124" x="515" y="42"/></g><rect x="129" y="44" width="1" height="2755" fill="#333300"/><rect x="248" y="44" width="1" height="2755" fill="#333300"/><rect x="367" y="44" width="1" height="2755" fill="#333300"/><rect x="487" y="44" width="1" height="2755" fill="#333300"/><defs><symbol id="tc" overflow="visible"><rect x="0" y="-5" width="1" height="1" fill="#fff"/><rect x="0" y="-4" width="2" height="1" fill="#fff"/><rect x="0" y="-3" width="3" height="1" fill="#fff"/><rect x="1" y="-3" width="1" height="1" fill="#00cccc"/><rect x="0" y="-2" width="4" height="1" fill="#fff"/><rect x="1" y="-2" width="2" height="1" fill="#00cccc"/><rect x="0" y="-1" width="5" height="1" fill="#fff"/><rect x="1" y="-1" width="3" height="1" fill="#00cccc"/><rect x="0" y="0" width="6" height="1" fill="#fff"/><rect x="1" y="0" width="4" height="1" fill="#00cccc"/><rect x="0" y="1" width="5" height="1" fill="#fff"/><rect x="1" y="1" width="3" height="1" fill="#00cccc"/><rect x="0" y="2" width="4" height="1" fill="#fff"/><rect x="1" y="2" width="2" height="1" fill="#00cccc"/><rect x="0" y="3" width="3" height="1" fill="#fff"/><rect x="1" y="3" width="1" height="1" fill="#00cccc"/><rect x="0" y="4" width="2" height="1" fill="#fff"/><rect x="0" y="5" width="1" height="1" fill="#fff"/></symbol><symbol id="tg" overflow="visible"><rect x="0" y="-5" width="1" height="1" fill="#fff"/><rect x="0" y="-4" width="2" height="1" fill="#fff"/><rect x="0" y="-3" width="3" height="1" fill="#fff"/><rect x="1" y="-3" width="1" height="1" fill="#00aa00"/><rect x="0" y="-2" width="4" height="1" fill="#fff"/><rect x="1" y="-2" width="2" height="1" fill="#00aa00"/><rect x="0" y="-1" width="5" height="1" fill="#fff"/><rect x="1" y="-1" width="3" height="1" fill="#00aa00"/><rect x="0" y="0" width="6" height="1" fill="#fff"/><rect x="1" y="0" width="4" height="1" fill="#00aa00"/><rect x="0" y="1" width="5" height="1" fill="#fff"/><rect x="1" y="1" width="3" height="1" fill="#00aa00"/><rect x="0" y="2" width="4" height="1" fill="#fff"/><rect x="1" y="2" width="2" height="1" fill="#00aa00"/><rect x="0" y="3" width="3" height="1" fill="#fff"/><rect x="1" y="3" width="1" height="1" fill="#00aa00"/><rect x="0" y="4" width="2" height="1" fill="#fff"/><rect x="0" y="5" width="1" height="1" fill="#fff"/></symbol></defs><rect x="10" y="64" width="517" height="3" fill="#000033"/><rect x="45" y="64" width="446" height="3" fill="#00cccc"/><rect x="45" y="61" width="1" height="9" fill="#fff"/><use href="#tc" x="491" y="65"/><use href="#pre" x="527" y="57" fill="#fff"/><g fill="#fff"><use href="#s80" x="587" y="57"/><use href="#s48" x="593" y="57"/><use href="#s55" x="599" y="57"/><use href="#s56" x="605" y="57"/><use href="#s51" x="611" y="57"/><use href="#s57" x="617" y="57"/></g><rect x="45" y="75" width="446" height="3" fill="#00cccc"/><rect x="45" y="72" width="1" height="9" fill="#fff"/><use href="#tc" x="491" y="76"/><use href="#pre" x="527" y="68" fill="#fff"/><g fill="#fff"><use href="#s65" x="587" y="68"/><use href="#s49" x="593" y="68"/><use href="#s89" x="599" y="68"/><use href="#s81" x="605" y="68"/><use href="#s88" x="611" y="68"/><use href="#s50" x="617" y="68"/></g><rect x="10" y="86" width="517" height="3" fill="#000033"/><rect x="38" y="86" width="453" height="3" fill="#00aa00"/><rect x="38" y="83" width="1" height="9" fill="#fff"/><use href="#tg" x="491" y="87"/><path d="M59 89 h1 v2 h1 v2 h-3 v-2 h1 Z" fill="#f8f088"/><use href="#pre" x="527" y="79" fill="#fff"/><g fill="#fff"><use href="#s67" x="587" y="79"/><use href="#s49" x="593" y="79"/><use href="#s78" x="599" y="79"/><use href="#s55" x="605" y="79"/><use href="#s81" x="611" y="79"/><use href="#s56" x="617" y="79"/></g><rect x="160" y="97" width="331" height="3" fill="#00cccc"/><rect x="160" y="94" width="1" height="9" fill="#fff"/><use href="#tc" x="491" y="98"/><use href="#pre" x="527" y="90" fill="#fff"/><g fill="#fff"><use href="#s80" x="587" y="90"/><use href="#s48" x="593" y="90"/><use href="#s48" x="599" y="90"/><use href="#s50" x="605" y="90"/><use href="#s51" x="611" y="90"/><use href="#s56" x="617" y="90"/></g><rect x="10" y="108" width="517" height="3" fill="#000033"/><rect x="160" y="108" width="331" height="3" fill="#00cccc"/><rect x="160" y="105" width="1" height="9" fill="#fff"/><use href="#tc" x="491" y="109"/><use href="#pre" x="527" y="101" fill="#fff"/><g fill="#fff"><use href="#s80" x="587" y="101"/><use href="#s53" x="593" y="101"/><use href="#s54" x="599" y="101"/><use href="#s52" x="605" y="101"/><use href="#s48" x="611" y="101"/><use href="#s56" x="617" y="101"/></g><rect x="77" y="119" width="414" height="3" fill="#00aa00"/><rect x="77" y="116" width="1" height="9" fill="#fff"/><use href="#tg" x="491" y="120"/><path d="M101 122 h1 v2 h1 v2 h-3 v-2 h1 Z" fill="#f8f088"/><use href="#pre" x="527" y="112" fill="#fff"/><g fill="#fff"><use href="#s67" x="587" y="112"/><use href="#s49" x="593" y="112"/><use href="#s70" x="599" y="112"/><use href="#s72" x="605" y="112"/><use href="#s81" x="611" y="112"/><use href="#s56" x="617" y="112"/></g><rect x="10" y="130" width="517" height="3" fill="#000033"/><rect x="156" y="130" width="335" height="3" fill="#00cccc"/><rect x="156" y="127" width="1" height="9" fill="#fff"/><use href="#tc" x="491" y="131"/><use href="#pre" x="527" y="123" fill="#fff"/><g fill="#fff"><use href="#s80" x="587" y="123"/><use href="#s48" x="593" y="123"/><use href="#s48" x="599" y="123"/><use href="#s50" x="605" y="123"/><use href="#s52" x="611" y="123"/><use href="#s48" x="617" y="123"/></g><rect x="67" y="141" width="424" height="3" fill="#00aa00"/><rect x="67" y="138" width="1" height="9" fill="#fff"/><use href="#tg" x="491" y="142"/><path d="M85 144 h1 v2 h1 v2 h-3 v-2 h1 Z" fill="#f8f088"/><use href="#pre" x="527" y="134" fill="#fff"/><g fill="#fff"><use href="#s65" x="587" y="134"/><use href="#s52" x="593" y="134"/><use href="#s83" x="599" y="134"/><use href="#s56" x="605" y="134"/><use href="#s86" x="611" y="134"/><use href="#s57" x="617" y="134"/></g><rect x="10" y="152" width="517" height="3" fill="#000033"/><rect x="95" y="152" width="396" height="3" fill="#00cccc"/><rect x="114" y="152" width="4" height="3" fill="#000"/><rect x="114" y="153" width="4" height="1" fill="#00cccc"/><rect x="95" y="149" width="1" height="9" fill="#fff"/><use href="#tc" x="491" y="153"/><use href="#pre" x="527" y="145" fill="#fff"/><g fill="#fff"><use href="#s81" x="587" y="145"/><use href="#s53" x="593" y="145"/><use href="#s69" x="599" y="145"/><use href="#s78" x="605" y="145"/><use href="#s84" x="611" y="145"/><use href="#s49" x="617" y="145"/></g><rect x="52" y="163" width="439" height="3" fill="#00aa00"/><rect x="52" y="160" width="1" height="9" fill="#fff"/><use href="#tg" x="491" y="164"/><path d="M73 166 h1 v2 h1 v2 h-3 v-2 h1 Z" fill="#f8f088"/><path d="M90 166 h1 v2 h1 v2 h-3 v-2 h1 Z" fill="#f8f088"/><use href="#pre" x="527" y="156" fill="#fff"/><g fill="#fff"><use href="#s81" x="587" y="156"/><use href="#s55" x="593" y="156"/><use href="#s88" x="599" y="156"/><use href="#s89" x="605" y="156"/><use href="#s81" x="611" y="156"/><use href="#s50" x="617" y="156"/></g><rect x="10" y="174" width="517" height="3" fill="#000033"/><rect x="156" y="174" width="335" height="3" fill="#00cccc"/><rect x="156" y="171" width="1" height="9" fill="#fff"/><use href="#tc" x="491" y="175"/><use href="#pre" x="527" y="167" fill="#fff"/><g fill="#fff"><use href="#s66" x="587" y="167"/><use href="#s49" x="593" y="167"/><use href="#s87" x="599" y="167"/><use href="#s88" x="605" y="167"/><use href="#s87" x="611" y="167"/><use href="#s57" x="617" y="167"/></g><rect x="160" y="185" width="331" height="3" fill="#00cccc"/><rect x="160" y="182" width="1" height="9" fill="#fff"/><use href="#tc" x="491" y="186"/><use href="#pre" x="527" y="178" fill="#fff"/><g fill="#fff"><use href="#s79" x="587" y="178"/><use href="#s55" x="593" y="178"/><use href="#s56" x="599" y="178"/><use href="#s53" x="605" y="178"/><use href="#s49" x="611" y="178"/><use href="#s48" x="617" y="178"/></g><rect x="10" y="196" width="517" height="3" fill="#000033"/><rect x="156" y="196" width="335" height="3" fill="#00cccc"/><rect x="156" y="193" width="1" height="9" fill="#fff"/><use href="#tc" x="491" y="197"/><use href="#pre" x="527" y="189" fill="#fff"/><g fill="#fff"><use href="#s65" x="587" y="189"/><use href="#s54" x="593" y="189"/><use href="#s77" x="599" y="189"/><use href="#s87" x="605" y="189"/><use href="#s51" x="611" y="189"/><use href="#s48" x="617" y="189"/></g><rect x="45" y="207" width="443" height="3" fill="#00aa00"/><rect x="45" y="204" width="1" height="9" fill="#fff"/><use href="#tg" x="488" y="208"/><path d="M72 210 h1 v2 h1 v2 h-3 v-2 h1 Z" fill="#f8f088"/><path d="M83 210 h1 v2 h1 v2 h-3 v-2 h1 Z" fill="#f8f088"/><use href="#pre" x="527" y="200" fill="#fff"/><g fill="#fff"><use href="#s81" x="587" y="200"/><use href="#s53" x="593" y="200"/><use href="#s69" x="599" y="200"/><use href="#s78" x="605" y="200"/><use href="#s84" x="611" y="200"/><use href="#s48" x="617" y="200"/></g><rect x="10" y="218" width="517" height="3" fill="#000033"/><rect x="156" y="218" width="335" height="3" fill="#00cccc"/><rect x="156" y="215" width="1" height="9" fill="#fff"/><use href="#tc" x="491" y="219"/><use href="#pre" x="527" y="211" fill="#fff"/><g fill="#fff"><use href="#s80" x="587" y="211"/><use href="#s48" x="593" y="211"/><use href="#s48" x="599" y="211"/><use href="#s50" x="605" y="211"/><use href="#s51" x="611" y="211"/><use href="#s57" x="617" y="211"/></g><rect x="160" y="229" width="331" height="3" fill="#00cccc"/><rect x="160" y="226" width="1" height="9" fill="#fff"/><use href="#tc" x="491" y="230"/><use href="#pre" x="527" y="222" fill="#fff"/><g fill="#fff"><use href="#s67" x="587" y="222"/><use href="#s51" x="593" y="222"/><use href="#s89" x="599" y="222"/><use href="#s74" x="605" y="222"/><use href="#s73" x="611" y="222"/><use href="#s50" x="617" y="222"/></g><rect x="10" y="240" width="517" height="3" fill="#000033"/><rect x="156" y="240" width="335" height="3" fill="#00cccc"/><rect x="156" y="237" width="1" height="9" fill="#fff"/><use href="#tc" x="491" y="241"/><use href="#pre" x="527" y="233" fill="#fff"/><g fill="#fff"><use href="#s80" x="587" y="233"/><use href="#s48" x="593" y="233"/><use href="#s48" x="599" y="233"/><use href="#s50" x="605" y="233"/><use href="#s52" x="611" y="233"/><use href="#s51" x="617" y="233"/></g><rect x="156" y="251" width="335" height="3" fill="#00cccc"/><rect x="156" y="248" width="1" height="9" fill="#fff"/><use href="#tc" x="491" y="252"/><use href="#pre" x="527" y="244" fill="#fff"/><g fill="#fff"><use href="#s80" x="587" y="244"/><use href="#s50" x="593" y="244"/><use href="#s55" x="599" y="244"/><use href="#s51" x="605" y="244"/><use href="#s50" x="611" y="244"/><use href="#s48" x="617" y="244"/></g><rect x="10" y="262" width="517" height="3" fill="#000033"/><rect x="156" y="262" width="335" height="3" fill="#00cccc"/><rect x="156" y="259" width="1" height="9" fill="#fff"/><use href="#tc" x="491" y="263"/><use href="#pre" x="527" y="255" fill="#fff"/><g fill="#fff"><use href="#s65" x="587" y="255"/><use href="#s48" x="593" y="255"/><use href="#s89" x="599" y="255"/><use href="#s77" x="605" y="255"/><use href="#s65" x="611" y="255"/><use href="#s53" x="617" y="255"/></g><rect x="160" y="273" width="320" height="3" fill="#00cccc"/><rect x="160" y="270" width="1" height="9" fill="#fff"/><use href="#tc" x="480" y="274"/><use href="#pre" x="527" y="266" fill="#fff"/><g fill="#fff"><use href="#s80" x="587" y="266"/><use href="#s48" x="593" y="266"/><use href="#s48" x="599" y="266"/><use href="#s50" x="605" y="266"/><use href="#s51" x="611" y="266"/><use href="#s48" x="617" y="266"/></g><rect x="10" y="284" width="517" height="3" fill="#000033"/><rect x="70" y="284" width="421" height="3" fill="#00aa00"/><rect x="80" y="284" width="4" height="3" fill="#000"/><rect x="80" y="285" width="4" height="1" fill="#00aa00"/><rect x="70" y="281" width="1" height="9" fill="#fff"/><use href="#tg" x="491" y="285"/><use href="#pre" x="527" y="277" fill="#fff"/><g fill="#fff"><use href="#s81" x="587" y="277"/><use href="#s53" x="593" y="277"/><use href="#s69" x="599" y="277"/><use href="#s78" x="605" y="277"/><use href="#s84" x="611" y="277"/><use href="#s50" x="617" y="277"/></g><rect x="160" y="295" width="331" height="3" fill="#00cccc"/><rect x="160" y="292" width="1" height="9" fill="#fff"/><use href="#tc" x="491" y="296"/><path d="M174 298 h1 v2 h1 v2 h-3 v-2 h1 Z" fill="#f8f088"/><use href="#pre" x="527" y="288" fill="#fff"/><g fill="#fff"><use href="#s65" x="587" y="288"/><use href="#s48" x="593" y="288"/><use href="#s90" x="599" y="288"/><use href="#s71" x="605" y="288"/><use href="#s81" x="611" y="288"/><use href="#s52" x="617" y="288"/></g><rect x="10" y="306" width="517" height="3" fill="#000033"/><rect x="135" y="306" width="353" height="3" fill="#00cccc"/><rect x="135" y="303" width="1" height="9" fill="#fff"/><use href="#tc" x="488" y="307"/><use href="#pre" x="527" y="299" fill="#fff"/><g fill="#fff"><use href="#s67" x="587" y="299"/><use href="#s48" x="593" y="299"/><use href="#s80" x="599" y="299"/><use href="#s82" x="605" y="299"/><use href="#s67" x="611" y="299"/><use href="#s57" x="617" y="299"/></g><rect x="135" y="317" width="353" height="3" fill="#00cccc"/><rect x="135" y="314" width="1" height="9" fill="#fff"/><use href="#tc" x="488" y="318"/><use href="#pre" x="527" y="310" fill="#fff"/><g fill="#fff"><use href="#s65" x="587" y="310"/><use href="#s57" x="593" y="310"/><use href="#s78" x="599" y="310"/><use href="#s84" x="605" y="310"/><use href="#s66" x="611" y="310"/><use href="#s55" x="617" y="310"/></g><rect x="10" y="328" width="517" height="3" fill="#000033"/><rect x="160" y="328" width="331" height="3" fill="#00cccc"/><rect x="160" y="325" width="1" height="9" fill="#fff"/><use href="#tc" x="491" y="329"/><use href="#pre" x="527" y="321" fill="#fff"/><g fill="#fff"><use href="#s81" x="587" y="321"/><use href="#s55" x="593" y="321"/><use href="#s78" x="599" y="321"/><use href="#s70" x="605" y="321"/><use href="#s65" x="611" y="321"/><use href="#s51" x="617" y="321"/></g><rect x="156" y="339" width="332" height="3" fill="#00cccc"/><rect x="156" y="336" width="1" height="9" fill="#fff"/><use href="#tc" x="488" y="340"/><use href="#pre" x="527" y="332" fill="#fff"/><g fill="#fff"><use href="#s80" x="587" y="332"/><use href="#s48" x="593" y="332"/><use href="#s48" x="599" y="332"/><use href="#s50" x="605" y="332"/><use href="#s51" x="611" y="332"/><use href="#s50" x="617" y="332"/></g><rect x="10" y="350" width="517" height="3" fill="#000033"/><rect x="160" y="350" width="320" height="3" fill="#00cccc"/><rect x="160" y="347" width="1" height="9" fill="#fff"/><use href="#tc" x="480" y="351"/><use href="#pre" x="527" y="343" fill="#fff"/><g fill="#fff"><use href="#s80" x="587" y="343"/><use href="#s48" x="593" y="343"/><use href="#s48" x="599" y="343"/><use href="#s50" x="605" y="343"/><use href="#s50" x="611" y="343"/><use href="#s57" x="617" y="343"/></g><rect x="85" y="361" width="406" height="3" fill="#00aa00"/><rect x="85" y="358" width="1" height="9" fill="#fff"/><use href="#tg" x="491" y="362"/><path d="M123 364 h1 v2 h1 v2 h-3 v-2 h1 Z" fill="#f8f088"/><use href="#pre" x="527" y="354" fill="#fff"/><g fill="#fff"><use href="#s81" x="587" y="354"/><use href="#s48" x="593" y="354"/><use href="#s73" x="599" y="354"/><use href="#s55" x="605" y="354"/><use href="#s88" x="611" y="354"/><use href="#s48" x="617" y="354"/></g><rect x="10" y="372" width="517" height="3" fill="#000033"/><rect x="13" y="372" width="475" height="3" fill="#00aa00"/><rect x="46" y="372" width="4" height="3" fill="#000"/><rect x="46" y="373" width="4" height="1" fill="#00aa00"/><rect x="13" y="369" width="1" height="9" fill="#fff"/><use href="#tg" x="488" y="373"/><use href="#pre" x="527" y="365" fill="#fff"/><g fill="#fff"><use href="#s79" x="587" y="365"/><use href="#s48" x="593" y="365"/><use href="#s52" x="599" y="365"/><use href="#s48" x="605" y="365"/><use href="#s57" x="611" y="365"/><use href="#s48" x="617" y="365"/></g><rect x="160" y="383" width="331" height="3" fill="#00cccc"/><rect x="160" y="380" width="1" height="9" fill="#fff"/><use href="#tc" x="491" y="384"/><use href="#pre" x="527" y="376" fill="#fff"/><g fill="#fff"><use href="#s81" x="587" y="376"/><use href="#s49" x="593" y="376"/><use href="#s49" x="599" y="376"/><use href="#s55" x="605" y="376"/><use href="#s75" x="611" y="376"/><use href="#s57" x="617" y="376"/></g><rect x="10" y="394" width="517" height="3" fill="#000033"/><rect x="135" y="394" width="353" height="3" fill="#00cccc"/><rect x="135" y="391" width="1" height="9" fill="#fff"/><use href="#tc" x="488" y="395"/><use href="#pre" x="527" y="387" fill="#fff"/><g fill="#fff"><use href="#s66" x="587" y="387"/><use href="#s56" x="593" y="387"/><use href="#s76" x="599" y="387"/><use href="#s78" x="605" y="387"/><use href="#s51" x="611" y="387"/><use href="#s51" x="617" y="387"/></g><rect x="160" y="405" width="331" height="3" fill="#00cccc"/><rect x="160" y="402" width="1" height="9" fill="#fff"/><use href="#tc" x="491" y="406"/><path d="M174 408 h1 v2 h1 v2 h-3 v-2 h1 Z" fill="#f8f088"/><use href="#pre" x="527" y="398" fill="#fff"/><g fill="#fff"><use href="#s80" x="587" y="398"/><use href="#s48" x="593" y="398"/><use href="#s48" x="599" y="398"/><use href="#s50" x="605" y="398"/><use href="#s52" x="611" y="398"/><use href="#s53" x="617" y="398"/></g><rect x="10" y="416" width="517" height="3" fill="#000033"/><rect x="13" y="416" width="467" height="3" fill="#00aa00"/><rect x="44" y="416" width="5" height="3" fill="#000"/><rect x="44" y="417" width="5" height="1" fill="#00aa00"/><rect x="13" y="413" width="1" height="9" fill="#fff"/><use href="#tg" x="480" y="417"/><use href="#pre" x="527" y="409" fill="#fff"/><g fill="#fff"><use href="#s80" x="587" y="409"/><use href="#s49" x="593" y="409"/><use href="#s54" x="599" y="409"/><use href="#s57" x="605" y="409"/><use href="#s55" x="611" y="409"/><use href="#s50" x="617" y="409"/></g><rect x="160" y="427" width="331" height="3" fill="#00cccc"/><rect x="160" y="424" width="1" height="9" fill="#fff"/><use href="#tc" x="491" y="428"/><path d="M168 430 h1 v2 h1 v2 h-3 v-2 h1 Z" fill="#f8f088"/><use href="#pre" x="527" y="420" fill="#fff"/><g fill="#fff"><use href="#s80" x="587" y="420"/><use href="#s49" x="593" y="420"/><use href="#s55" x="599" y="420"/><use href="#s48" x="605" y="420"/><use href="#s48" x="611" y="420"/><use href="#s55" x="617" y="420"/></g><rect x="10" y="438" width="517" height="3" fill="#000033"/><rect x="160" y="438" width="331" height="3" fill="#00cccc"/><rect x="160" y="435" width="1" height="9" fill="#fff"/><use href="#tc" x="491" y="439"/><path d="M174 441 h1 v2 h1 v2 h-3 v-2 h1 Z" fill="#f8f088"/><use href="#pre" x="527" y="431" fill="#fff"/><g fill="#fff"><use href="#s66" x="587" y="431"/><use href="#s48" x="593" y="431"/><use href="#s67" x="599" y="431"/><use href="#s68" x="605" y="431"/><use href="#s90" x="611" y="431"/><use href="#s53" x="617" y="431"/></g><rect x="156" y="449" width="332" height="3" fill="#00cccc"/><rect x="156" y="446" width="1" height="9" fill="#fff"/><use href="#tc" x="488" y="450"/><use href="#pre" x="527" y="442" fill="#fff"/><g fill="#fff"><use href="#s80" x="587" y="442"/><use href="#s48" x="593" y="442"/><use href="#s48" x="599" y="442"/><use href="#s50" x="605" y="442"/><use href="#s51" x="611" y="442"/><use href="#s49" x="617" y="442"/></g><rect x="10" y="460" width="517" height="3" fill="#000033"/><rect x="131" y="460" width="360" height="3" fill="#00cccc"/><rect x="131" y="457" width="1" height="9" fill="#fff"/><use href="#tc" x="491" y="461"/><use href="#pre" x="527" y="453" fill="#fff"/><g fill="#fff"><use href="#s65" x="587" y="453"/><use href="#s56" x="593" y="453"/><use href="#s89" x="599" y="453"/><use href="#s65" x="605" y="453"/><use href="#s89" x="611" y="453"/><use href="#s53" x="617" y="453"/></g><rect x="156" y="471" width="335" height="3" fill="#00cccc"/><rect x="156" y="468" width="1" height="9" fill="#fff"/><use href="#tc" x="491" y="472"/><path d="M171 474 h1 v2 h1 v2 h-3 v-2 h1 Z" fill="#f8f088"/><use href="#pre" x="527" y="464" fill="#fff"/><g fill="#fff"><use href="#s65" x="587" y="464"/><use href="#s53" x="593" y="464"/><use href="#s71" x="599" y="464"/><use href="#s78" x="605" y="464"/><use href="#s57" x="611" y="464"/><use href="#s48" x="617" y="464"/></g><rect x="10" y="482" width="517" height="3" fill="#000033"/><rect x="160" y="482" width="328" height="3" fill="#00cccc"/><rect x="160" y="479" width="1" height="9" fill="#fff"/><use href="#tc" x="488" y="483"/><use href="#pre" x="527" y="475" fill="#fff"/><g fill="#fff"><use href="#s80" x="587" y="475"/><use href="#s48" x="593" y="475"/><use href="#s48" x="599" y="475"/><use href="#s50" x="605" y="475"/><use href="#s50" x="611" y="475"/><use href="#s52" x="617" y="475"/></g><rect x="160" y="493" width="328" height="3" fill="#00cccc"/><rect x="160" y="490" width="1" height="9" fill="#fff"/><use href="#tc" x="488" y="494"/><use href="#pre" x="527" y="486" fill="#fff"/><g fill="#fff"><use href="#s81" x="587" y="486"/><use href="#s49" x="593" y="486"/><use href="#s49" x="599" y="486"/><use href="#s55" x="605" y="486"/><use href="#s76" x="611" y="486"/><use href="#s49" x="617" y="486"/></g><rect x="10" y="504" width="517" height="3" fill="#000033"/><rect x="156" y="504" width="335" height="3" fill="#00cccc"/><rect x="156" y="501" width="1" height="9" fill="#fff"/><use href="#tc" x="491" y="505"/><path d="M171 507 h1 v2 h1 v2 h-3 v-2 h1 Z" fill="#f8f088"/><use href="#pre" x="527" y="497" fill="#fff"/><g fill="#fff"><use href="#s66" x="587" y="497"/><use href="#s49" x="593" y="497"/><use href="#s88" x="599" y="497"/><use href="#s53" x="605" y="497"/><use href="#s57" x="611" y="497"/><use href="#s55" x="617" y="497"/></g><rect x="156" y="515" width="335" height="3" fill="#00cccc"/><rect x="156" y="512" width="1" height="9" fill="#fff"/><use href="#tc" x="491" y="516"/><path d="M171 518 h1 v2 h1 v2 h-3 v-2 h1 Z" fill="#f8f088"/><use href="#pre" x="527" y="508" fill="#fff"/><g fill="#fff"><use href="#s65" x="587" y="508"/><use href="#s51" x="593" y="508"/><use href="#s90" x="599" y="508"/><use href="#s54" x="605" y="508"/><use href="#s57" x="611" y="508"/><use href="#s54" x="617" y="508"/></g><rect x="10" y="526" width="517" height="3" fill="#000033"/><rect x="156" y="526" width="335" height="3" fill="#00cccc"/><rect x="156" y="523" width="1" height="9" fill="#fff"/><use href="#tc" x="491" y="527"/><path d="M171 529 h1 v2 h1 v2 h-3 v-2 h1 Z" fill="#f8f088"/><use href="#pre" x="527" y="519" fill="#fff"/><g fill="#fff"><use href="#s65" x="587" y="519"/><use href="#s53" x="593" y="519"/><use href="#s71" x="599" y="519"/><use href="#s86" x="605" y="519"/><use href="#s51" x="611" y="519"/><use href="#s54" x="617" y="519"/></g><rect x="156" y="537" width="335" height="3" fill="#00cccc"/><rect x="156" y="534" width="1" height="9" fill="#fff"/><use href="#tc" x="491" y="538"/><path d="M171 540 h1 v2 h1 v2 h-3 v-2 h1 Z" fill="#f8f088"/><use href="#pre" x="527" y="530" fill="#fff"/><g fill="#fff"><use href="#s81" x="587" y="530"/><use href="#s48" x="593" y="530"/><use href="#s54" x="599" y="530"/><use href="#s52" x="605" y="530"/><use href="#s86" x="611" y="530"/><use href="#s52" x="617" y="530"/></g><rect x="10" y="548" width="517" height="3" fill="#000033"/><rect x="160" y="548" width="331" height="3" fill="#00cccc"/><rect x="160" y="545" width="1" height="9" fill="#fff"/><use href="#tc" x="491" y="549"/><path d="M175 551 h1 v2 h1 v2 h-3 v-2 h1 Z" fill="#f8f088"/><use href="#pre" x="527" y="541" fill="#fff"/><g fill="#fff"><use href="#s65" x="587" y="541"/><use href="#s51" x="593" y="541"/><use href="#s73" x="599" y="541"/><use href="#s78" x="605" y="541"/><use href="#s50" x="611" y="541"/><use href="#s54" x="617" y="541"/></g><rect x="110" y="559" width="381" height="3" fill="#00aa00"/><rect x="115" y="559" width="3" height="3" fill="#000"/><rect x="115" y="560" width="3" height="1" fill="#00aa00"/><rect x="110" y="556" width="1" height="9" fill="#fff"/><use href="#tg" x="491" y="560"/><use href="#pre" x="527" y="552" fill="#fff"/><g fill="#fff"><use href="#s67" x="587" y="552"/><use href="#s54" x="593" y="552"/><use href="#s84" x="599" y="552"/><use href="#s49" x="605" y="552"/><use href="#s74" x="611" y="552"/><use href="#s48" x="617" y="552"/></g><rect x="10" y="570" width="517" height="3" fill="#000033"/><rect x="160" y="570" width="331" height="3" fill="#00cccc"/><rect x="160" y="567" width="1" height="9" fill="#fff"/><use href="#tc" x="491" y="571"/><path d="M168 573 h1 v2 h1 v2 h-3 v-2 h1 Z" fill="#f8f088"/><use href="#pre" x="527" y="563" fill="#fff"/><g fill="#fff"><use href="#s80" x="587" y="563"/><use href="#s48" x="593" y="563"/><use href="#s48" x="599" y="563"/><use href="#s50" x="605" y="563"/><use href="#s52" x="611" y="563"/><use href="#s54" x="617" y="563"/></g><rect x="160" y="581" width="328" height="3" fill="#00cccc"/><rect x="160" y="578" width="1" height="9" fill="#fff"/><use href="#tc" x="488" y="582"/><use href="#pre" x="527" y="574" fill="#fff"/><g fill="#fff"><use href="#s80" x="587" y="574"/><use href="#s48" x="593" y="574"/><use href="#s57" x="599" y="574"/><use href="#s55" x="605" y="574"/><use href="#s51" x="611" y="574"/><use href="#s53" x="617" y="574"/></g><rect x="10" y="592" width="517" height="3" fill="#000033"/><rect x="160" y="592" width="331" height="3" fill="#00cccc"/><rect x="160" y="589" width="1" height="9" fill="#fff"/><use href="#tc" x="491" y="593"/><path d="M168 595 h1 v2 h1 v2 h-3 v-2 h1 Z" fill="#f8f088"/><use href="#pre" x="527" y="585" fill="#fff"/><g fill="#fff"><use href="#s80" x="587" y="585"/><use href="#s49" x="593" y="585"/><use href="#s53" x="599" y="585"/><use href="#s55" x="605" y="585"/><use href="#s56" x="611" y="585"/><use href="#s57" x="617" y="585"/></g><rect x="35" y="603" width="453" height="3" fill="#00aa00"/><rect x="66" y="603" width="5" height="3" fill="#000"/><rect x="66" y="604" width="5" height="1" fill="#00aa00"/><rect x="35" y="600" width="1" height="9" fill="#fff"/><use href="#tg" x="488" y="604"/><use href="#pre" x="527" y="596" fill="#fff"/><g fill="#fff"><use href="#s80" x="587" y="596"/><use href="#s48" x="593" y="596"/><use href="#s48" x="599" y="596"/><use href="#s50" x="605" y="596"/><use href="#s50" x="611" y="596"/><use href="#s49" x="617" y="596"/></g><rect x="10" y="614" width="517" height="3" fill="#000033"/><rect x="45" y="614" width="443" height="3" fill="#00aa00"/><rect x="45" y="611" width="1" height="9" fill="#fff"/><use href="#tg" x="488" y="615"/><use href="#pre" x="527" y="607" fill="#fff"/><g fill="#fff"><use href="#s67" x="587" y="607"/><use href="#s53" x="593" y="607"/><use href="#s89" x="599" y="607"/><use href="#s76" x="605" y="607"/><use href="#s71" x="611" y="607"/><use href="#s50" x="617" y="607"/></g><rect x="160" y="625" width="331" height="3" fill="#00cccc"/><rect x="160" y="622" width="1" height="9" fill="#fff"/><use href="#tc" x="491" y="626"/><use href="#pre" x="527" y="618" fill="#fff"/><g fill="#fff"><use href="#s80" x="587" y="618"/><use href="#s48" x="593" y="618"/><use href="#s48" x="599" y="618"/><use href="#s50" x="605" y="618"/><use href="#s52" x="611" y="618"/><use href="#s52" x="617" y="618"/></g><rect x="10" y="636" width="517" height="3" fill="#000033"/><rect x="160" y="636" width="331" height="3" fill="#00cccc"/><rect x="160" y="633" width="1" height="9" fill="#fff"/><use href="#tc" x="491" y="637"/><use href="#pre" x="527" y="629" fill="#fff"/><g fill="#fff"><use href="#s85" x="587" y="629"/><use href="#s80" x="593" y="629"/><use href="#s73" x="599" y="629"/><use href="#s48" x="605" y="629"/><use href="#s48" x="611" y="629"/><use href="#s48" x="617" y="629"/><use href="#s46" x="623" y="629"/><use href="#s46" x="629" y="629"/></g><rect x="160" y="647" width="331" height="3" fill="#00cccc"/><rect x="160" y="644" width="1" height="9" fill="#fff"/><use href="#tc" x="491" y="648"/><path d="M174 650 h1 v2 h1 v2 h-3 v-2 h1 Z" fill="#f8f088"/><use href="#pre" x="527" y="640" fill="#fff"/><g fill="#fff"><use href="#s66" x="587" y="640"/><use href="#s49" x="593" y="640"/><use href="#s87" x="599" y="640"/><use href="#s88" x="605" y="640"/><use href="#s88" x="611" y="640"/><use href="#s48" x="617" y="640"/></g><rect x="10" y="658" width="517" height="3" fill="#000033"/><rect x="156" y="658" width="335" height="3" fill="#00cccc"/><rect x="156" y="655" width="1" height="9" fill="#fff"/><use href="#tc" x="491" y="659"/><path d="M171 661 h1 v2 h1 v2 h-3 v-2 h1 Z" fill="#f8f088"/><use href="#pre" x="527" y="651" fill="#fff"/><g fill="#fff"><use href="#s81" x="587" y="651"/><use href="#s55" x="593" y="651"/><use href="#s77" x="599" y="651"/><use href="#s49" x="605" y="651"/><use href="#s57" x="611" y="651"/><use href="#s49" x="617" y="651"/></g><rect x="156" y="669" width="335" height="3" fill="#00cccc"/><rect x="156" y="666" width="1" height="9" fill="#fff"/><use href="#tc" x="491" y="670"/><path d="M171 672 h1 v2 h1 v2 h-3 v-2 h1 Z" fill="#f8f088"/><use href="#pre" x="527" y="662" fill="#fff"/><g fill="#fff"><use href="#s66" x="587" y="662"/><use href="#s53" x="593" y="662"/><use href="#s73" x="599" y="662"/><use href="#s77" x="605" y="662"/><use href="#s75" x="611" y="662"/><use href="#s52" x="617" y="662"/></g><rect x="10" y="680" width="517" height="3" fill="#000033"/><rect x="156" y="680" width="324" height="3" fill="#00cccc"/><rect x="156" y="677" width="1" height="9" fill="#fff"/><use href="#tc" x="480" y="681"/><use href="#pre" x="527" y="673" fill="#fff"/><g fill="#fff"><use href="#s65" x="587" y="673"/><use href="#s48" x="593" y="673"/><use href="#s89" x="599" y="673"/><use href="#s77" x="605" y="673"/><use href="#s65" x="611" y="673"/><use href="#s54" x="617" y="673"/></g><rect x="120" y="691" width="371" height="3" fill="#00cccc"/><rect x="132" y="691" width="3" height="3" fill="#000"/><rect x="132" y="692" width="3" height="1" fill="#00cccc"/><rect x="120" y="688" width="1" height="9" fill="#fff"/><use href="#tc" x="491" y="692"/><use href="#pre" x="527" y="684" fill="#fff"/><g fill="#fff"><use href="#s66" x="587" y="684"/><use href="#s52" x="593" y="684"/><use href="#s70" x="599" y="684"/><use href="#s57" x="605" y="684"/><use href="#s86" x="611" y="684"/><use href="#s49" x="617" y="684"/></g><rect x="10" y="702" width="517" height="3" fill="#000033"/><rect x="160" y="702" width="324" height="3" fill="#00cccc"/><rect x="160" y="699" width="1" height="9" fill="#fff"/><use href="#tc" x="484" y="703"/><use href="#pre" x="527" y="695" fill="#fff"/><g fill="#fff"><use href="#s66" x="587" y="695"/><use href="#s48" x="593" y="695"/><use href="#s74" x="599" y="695"/><use href="#s78" x="605" y="695"/><use href="#s80" x="611" y="695"/><use href="#s53" x="617" y="695"/></g><rect x="156" y="713" width="335" height="3" fill="#00cccc"/><rect x="156" y="710" width="1" height="9" fill="#fff"/><use href="#tc" x="491" y="714"/><path d="M171 716 h1 v2 h1 v2 h-3 v-2 h1 Z" fill="#f8f088"/><use href="#pre" x="527" y="706" fill="#fff"/><g fill="#fff"><use href="#s65" x="587" y="706"/><use href="#s51" x="593" y="706"/><use href="#s89" x="599" y="706"/><use href="#s86" x="605" y="706"/><use href="#s72" x="611" y="706"/><use href="#s54" x="617" y="706"/></g><rect x="10" y="724" width="517" height="3" fill="#000033"/><rect x="110" y="724" width="378" height="3" fill="#00aa00"/><rect x="110" y="721" width="1" height="9" fill="#fff"/><use href="#tg" x="488" y="725"/><use href="#pre" x="527" y="717" fill="#fff"/><g fill="#fff"><use href="#s79" x="587" y="717"/><use href="#s48" x="593" y="717"/><use href="#s52" x="599" y="717"/><use href="#s54" x="605" y="717"/><use href="#s56" x="611" y="717"/><use href="#s51" x="617" y="717"/></g><rect x="160" y="735" width="331" height="3" fill="#00cccc"/><rect x="160" y="732" width="1" height="9" fill="#fff"/><use href="#tc" x="491" y="736"/><path d="M174 738 h1 v2 h1 v2 h-3 v-2 h1 Z" fill="#f8f088"/><use href="#pre" x="527" y="728" fill="#fff"/><g fill="#fff"><use href="#s80" x="587" y="728"/><use href="#s48" x="593" y="728"/><use href="#s48" x="599" y="728"/><use href="#s50" x="605" y="728"/><use href="#s52" x="611" y="728"/><use href="#s55" x="617" y="728"/></g><rect x="10" y="746" width="517" height="3" fill="#000033"/><rect x="160" y="746" width="320" height="3" fill="#00cccc"/><rect x="160" y="743" width="1" height="9" fill="#fff"/><use href="#tc" x="480" y="747"/><use href="#pre" x="527" y="739" fill="#fff"/><g fill="#fff"><use href="#s80" x="587" y="739"/><use href="#s49" x="593" y="739"/><use href="#s52" x="599" y="739"/><use href="#s57" x="605" y="739"/><use href="#s51" x="611" y="739"/><use href="#s56" x="617" y="739"/></g><rect x="156" y="757" width="335" height="3" fill="#00cccc"/><rect x="156" y="754" width="1" height="9" fill="#fff"/><use href="#tc" x="491" y="758"/><path d="M171 760 h1 v2 h1 v2 h-3 v-2 h1 Z" fill="#f8f088"/><use href="#pre" x="527" y="750" fill="#fff"/><g fill="#fff"><use href="#s65" x="587" y="750"/><use href="#s50" x="593" y="750"/><use href="#s67" x="599" y="750"/><use href="#s55" x="605" y="750"/><use href="#s49" x="611" y="750"/><use href="#s56" x="617" y="750"/></g><rect x="10" y="768" width="517" height="3" fill="#000033"/><rect x="92" y="768" width="396" height="3" fill="#00aa00"/><rect x="92" y="765" width="1" height="9" fill="#fff"/><use href="#tg" x="488" y="769"/><use href="#pre" x="527" y="761" fill="#fff"/><g fill="#fff"><use href="#s65" x="587" y="761"/><use href="#s55" x="593" y="761"/><use href="#s89" x="599" y="761"/><use href="#s88" x="605" y="761"/><use href="#s73" x="611" y="761"/><use href="#s56" x="617" y="761"/></g><rect x="156" y="779" width="335" height="3" fill="#00cccc"/><rect x="156" y="776" width="1" height="9" fill="#fff"/><use href="#tc" x="491" y="780"/><path d="M165 782 h1 v2 h1 v2 h-3 v-2 h1 Z" fill="#f8f088"/><use href="#pre" x="527" y="772" fill="#fff"/><g fill="#fff"><use href="#s81" x="587" y="772"/><use href="#s53" x="593" y="772"/><use href="#s49" x="599" y="772"/><use href="#s53" x="605" y="772"/><use href="#s55" x="611" y="772"/><use href="#s55" x="617" y="772"/></g><rect x="10" y="790" width="517" height="3" fill="#000033"/><rect x="27" y="790" width="461" height="3" fill="#00aa00"/><rect x="67" y="790" width="4" height="3" fill="#000"/><rect x="67" y="791" width="4" height="1" fill="#00aa00"/><rect x="27" y="787" width="1" height="9" fill="#fff"/><use href="#tg" x="488" y="791"/><use href="#pre" x="527" y="783" fill="#fff"/><g fill="#fff"><use href="#s80" x="587" y="783"/><use href="#s48" x="593" y="783"/><use href="#s57" x="599" y="783"/><use href="#s57" x="605" y="783"/><use href="#s49" x="611" y="783"/><use href="#s49" x="617" y="783"/></g><rect x="160" y="801" width="331" height="3" fill="#00cccc"/><rect x="160" y="798" width="1" height="9" fill="#fff"/><use href="#tc" x="491" y="802"/><path d="M168 804 h1 v2 h1 v2 h-3 v-2 h1 Z" fill="#f8f088"/><use href="#pre" x="527" y="794" fill="#fff"/><g fill="#fff"><use href="#s80" x="587" y="794"/><use href="#s48" x="593" y="794"/><use href="#s48" x="599" y="794"/><use href="#s50" x="605" y="794"/><use href="#s52" x="611" y="794"/><use href="#s56" x="617" y="794"/></g><rect x="10" y="812" width="517" height="3" fill="#000033"/><rect x="142" y="812" width="349" height="3" fill="#00aa00"/><rect x="142" y="809" width="1" height="9" fill="#fff"/><use href="#tg" x="491" y="813"/><use href="#pre" x="527" y="805" fill="#fff"/><g fill="#fff"><use href="#s81" x="587" y="805"/><use href="#s57" x="593" y="805"/><use href="#s84" x="599" y="805"/><use href="#s76" x="605" y="805"/><use href="#s87" x="611" y="805"/><use href="#s48" x="617" y="805"/></g><rect x="160" y="823" width="331" height="3" fill="#00cccc"/><rect x="160" y="820" width="1" height="9" fill="#fff"/><use href="#tc" x="491" y="824"/><use href="#pre" x="527" y="816" fill="#fff"/><g fill="#fff"><use href="#s66" x="587" y="816"/><use href="#s52" x="593" y="816"/><use href="#s70" x="599" y="816"/><use href="#s89" x="605" y="816"/><use href="#s87" x="611" y="816"/><use href="#s52" x="617" y="816"/></g><rect x="10" y="834" width="517" height="3" fill="#000033"/><rect x="160" y="834" width="331" height="3" fill="#00aa00"/><rect x="160" y="831" width="1" height="9" fill="#fff"/><use href="#tg" x="491" y="835"/><use href="#pre" x="527" y="827" fill="#fff"/><g fill="#fff"><use href="#s80" x="587" y="827"/><use href="#s48" x="593" y="827"/><use href="#s48" x="599" y="827"/><use href="#s50" x="605" y="827"/><use href="#s53" x="611" y="827"/><use href="#s53" x="617" y="827"/></g><rect x="160" y="845" width="328" height="3" fill="#00cccc"/><rect x="160" y="842" width="1" height="9" fill="#fff"/><use href="#tc" x="488" y="846"/><use href="#pre" x="527" y="838" fill="#fff"/><g fill="#fff"><use href="#s80" x="587" y="838"/><use href="#s48" x="593" y="838"/><use href="#s48" x="599" y="838"/><use href="#s50" x="605" y="838"/><use href="#s50" x="611" y="838"/><use href="#s55" x="617" y="838"/></g><rect x="10" y="856" width="517" height="3" fill="#000033"/><rect x="67" y="856" width="421" height="3" fill="#00aa00"/><rect x="67" y="853" width="1" height="9" fill="#fff"/><use href="#tg" x="488" y="857"/><use href="#pre" x="527" y="849" fill="#fff"/><g fill="#fff"><use href="#s81" x="587" y="849"/><use href="#s53" x="593" y="849"/><use href="#s69" x="599" y="849"/><use href="#s78" x="605" y="849"/><use href="#s84" x="611" y="849"/><use href="#s52" x="617" y="849"/></g><rect x="156" y="867" width="335" height="3" fill="#00aa00"/><rect x="156" y="864" width="1" height="9" fill="#fff"/><use href="#tg" x="491" y="868"/><use href="#pre" x="527" y="860" fill="#fff"/><g fill="#fff"><use href="#s80" x="587" y="860"/><use href="#s48" x="593" y="860"/><use href="#s48" x="599" y="860"/><use href="#s50" x="605" y="860"/><use href="#s53" x="611" y="860"/><use href="#s48" x="617" y="860"/></g><rect x="10" y="878" width="517" height="3" fill="#000033"/><rect x="131" y="878" width="360" height="3" fill="#00aa00"/><rect x="131" y="875" width="1" height="9" fill="#fff"/><use href="#tg" x="491" y="879"/><use href="#pre" x="527" y="871" fill="#fff"/><g fill="#fff"><use href="#s66" x="587" y="871"/><use href="#s48" x="593" y="871"/><use href="#s74" x="599" y="871"/><use href="#s83" x="605" y="871"/><use href="#s68" x="611" y="871"/><use href="#s48" x="617" y="871"/></g><rect x="160" y="889" width="328" height="3" fill="#00cccc"/><rect x="160" y="886" width="1" height="9" fill="#fff"/><use href="#tc" x="488" y="890"/><path d="M168 892 h1 v2 h1 v2 h-3 v-2 h1 Z" fill="#f8f088"/><use href="#pre" x="527" y="882" fill="#fff"/><g fill="#fff"><use href="#s81" x="587" y="882"/><use href="#s49" x="593" y="882"/><use href="#s49" x="599" y="882"/><use href="#s55" x="605" y="882"/><use href="#s76" x="611" y="882"/><use href="#s48" x="617" y="882"/></g><rect x="10" y="900" width="517" height="3" fill="#000033"/><rect x="160" y="900" width="331" height="3" fill="#00cccc"/><rect x="160" y="897" width="1" height="9" fill="#fff"/><use href="#tc" x="491" y="901"/><path d="M168 903 h1 v2 h1 v2 h-3 v-2 h1 Z" fill="#f8f088"/><use href="#pre" x="527" y="893" fill="#fff"/><g fill="#fff"><use href="#s66" x="587" y="893"/><use href="#s55" x="593" y="893"/><use href="#s75" x="599" y="893"/><use href="#s67" x="605" y="893"/><use href="#s65" x="611" y="893"/><use href="#s49" x="617" y="893"/></g><rect x="160" y="911" width="331" height="3" fill="#00cccc"/><rect x="160" y="908" width="1" height="9" fill="#fff"/><use href="#tc" x="491" y="912"/><path d="M174 914 h1 v2 h1 v2 h-3 v-2 h1 Z" fill="#f8f088"/><use href="#pre" x="527" y="904" fill="#fff"/><g fill="#fff"><use href="#s65" x="587" y="904"/><use href="#s51" x="593" y="904"/><use href="#s73" x="599" y="904"/><use href="#s78" x="605" y="904"/><use href="#s50" x="611" y="904"/><use href="#s53" x="617" y="904"/></g><rect x="10" y="922" width="517" height="3" fill="#000033"/><rect x="196" y="922" width="295" height="3" fill="#00cccc"/><rect x="196" y="919" width="1" height="9" fill="#fff"/><use href="#tc" x="491" y="923"/><use href="#pre" x="527" y="915" fill="#fff"/><g fill="#fff"><use href="#s81" x="587" y="915"/><use href="#s56" x="593" y="915"/><use href="#s53" x="599" y="915"/><use href="#s70" x="605" y="915"/><use href="#s84" x="611" y="915"/><use href="#s53" x="617" y="915"/></g><rect x="156" y="933" width="332" height="3" fill="#00cccc"/><rect x="156" y="930" width="1" height="9" fill="#fff"/><use href="#tc" x="488" y="934"/><use href="#pre" x="527" y="926" fill="#fff"/><g fill="#fff"><use href="#s81" x="587" y="926"/><use href="#s55" x="593" y="926"/><use href="#s77" x="599" y="926"/><use href="#s49" x="605" y="926"/><use href="#s83" x="611" y="926"/><use href="#s51" x="617" y="926"/></g><rect x="10" y="944" width="517" height="3" fill="#000033"/><rect x="160" y="944" width="328" height="3" fill="#00cccc"/><rect x="160" y="941" width="1" height="9" fill="#fff"/><use href="#tc" x="488" y="945"/><use href="#pre" x="527" y="937" fill="#fff"/><g fill="#fff"><use href="#s80" x="587" y="937"/><use href="#s48" x="593" y="937"/><use href="#s48" x="599" y="937"/><use href="#s50" x="605" y="937"/><use href="#s50" x="611" y="937"/><use href="#s50" x="617" y="937"/></g><rect x="160" y="955" width="331" height="3" fill="#00cccc"/><rect x="160" y="952" width="1" height="9" fill="#fff"/><use href="#tc" x="491" y="956"/><path d="M168 958 h1 v2 h1 v2 h-3 v-2 h1 Z" fill="#f8f088"/><use href="#pre" x="527" y="948" fill="#fff"/><g fill="#fff"><use href="#s66" x="587" y="948"/><use href="#s56" x="593" y="948"/><use href="#s72" x="599" y="948"/><use href="#s87" x="605" y="948"/><use href="#s87" x="611" y="948"/><use href="#s53" x="617" y="948"/></g><rect x="10" y="966" width="517" height="3" fill="#000033"/><rect x="156" y="966" width="335" height="3" fill="#00cccc"/><rect x="156" y="963" width="1" height="9" fill="#fff"/><use href="#tc" x="491" y="967"/><path d="M165 969 h1 v2 h1 v2 h-3 v-2 h1 Z" fill="#f8f088"/><use href="#pre" x="527" y="959" fill="#fff"/><g fill="#fff"><use href="#s66" x="587" y="959"/><use href="#s52" x="593" y="959"/><use href="#s87" x="599" y="959"/><use href="#s70" x="605" y="959"/><use href="#s88" x="611" y="959"/><use href="#s50" x="617" y="959"/></g><rect x="160" y="977" width="331" height="3" fill="#00cccc"/><rect x="160" y="974" width="1" height="9" fill="#fff"/><use href="#tc" x="491" y="978"/><use href="#pre" x="527" y="970" fill="#fff"/><g fill="#fff"><use href="#s67" x="587" y="970"/><use href="#s53" x="593" y="970"/><use href="#s89" x="599" y="970"/><use href="#s70" x="605" y="970"/><use href="#s85" x="611" y="970"/><use href="#s57" x="617" y="970"/></g><rect x="10" y="988" width="517" height="3" fill="#000033"/><rect x="110" y="988" width="378" height="3" fill="#00aa00"/><rect x="110" y="985" width="1" height="9" fill="#fff"/><use href="#tg" x="488" y="989"/><use href="#pre" x="527" y="981" fill="#fff"/><g fill="#fff"><use href="#s66" x="587" y="981"/><use href="#s49" x="593" y="981"/><use href="#s80" x="599" y="981"/><use href="#s68" x="605" y="981"/><use href="#s75" x="611" y="981"/><use href="#s51" x="617" y="981"/></g><rect x="160" y="999" width="331" height="3" fill="#00cccc"/><rect x="160" y="996" width="1" height="9" fill="#fff"/><use href="#tc" x="491" y="1000"/><path d="M168 1002 h1 v2 h1 v2 h-3 v-2 h1 Z" fill="#f8f088"/><use href="#pre" x="527" y="992" fill="#fff"/><g fill="#fff"><use href="#s81" x="587" y="992"/><use href="#s52" x="593" y="992"/><use href="#s66" x="599" y="992"/><use href="#s88" x="605" y="992"/><use href="#s55" x="611" y="992"/><use href="#s57" x="617" y="992"/></g><rect x="10" y="1010" width="517" height="3" fill="#000033"/><rect x="160" y="1010" width="328" height="3" fill="#00cccc"/><rect x="160" y="1007" width="1" height="9" fill="#fff"/><use href="#tc" x="488" y="1011"/><use href="#pre" x="527" y="1003" fill="#fff"/><g fill="#fff"><use href="#s80" x="587" y="1003"/><use href="#s49" x="593" y="1003"/><use href="#s48" x="599" y="1003"/><use href="#s55" x="605" y="1003"/><use href="#s55" x="611" y="1003"/><use href="#s48" x="617" y="1003"/></g><rect x="156" y="1021" width="335" height="3" fill="#00cccc"/><rect x="156" y="1018" width="1" height="9" fill="#fff"/><use href="#tc" x="491" y="1022"/><path d="M165 1024 h1 v2 h1 v2 h-3 v-2 h1 Z" fill="#f8f088"/><use href="#pre" x="527" y="1014" fill="#fff"/><g fill="#fff"><use href="#s80" x="587" y="1014"/><use href="#s48" x="593" y="1014"/><use href="#s48" x="599" y="1014"/><use href="#s50" x="605" y="1014"/><use href="#s52" x="611" y="1014"/><use href="#s49" x="617" y="1014"/></g><rect x="10" y="1032" width="517" height="3" fill="#000033"/><rect x="156" y="1032" width="335" height="3" fill="#00cccc"/><rect x="156" y="1029" width="1" height="9" fill="#fff"/><use href="#tc" x="491" y="1033"/><use href="#pre" x="527" y="1025" fill="#fff"/><g fill="#fff"><use href="#s66" x="587" y="1025"/><use href="#s49" x="593" y="1025"/><use href="#s88" x="599" y="1025"/><use href="#s74" x="605" y="1025"/><use href="#s76" x="611" y="1025"/><use href="#s55" x="617" y="1025"/></g><rect x="138" y="1043" width="350" height="3" fill="#00aa00"/><rect x="138" y="1040" width="1" height="9" fill="#fff"/><use href="#tg" x="488" y="1044"/><use href="#pre" x="527" y="1036" fill="#fff"/><g fill="#fff"><use href="#s81" x="587" y="1036"/><use href="#s54" x="593" y="1036"/><use href="#s81" x="599" y="1036"/><use href="#s56" x="605" y="1036"/><use href="#s66" x="611" y="1036"/><use href="#s56" x="617" y="1036"/></g><rect x="10" y="1054" width="517" height="3" fill="#000033"/><rect x="67" y="1054" width="421" height="3" fill="#00aa00"/><rect x="67" y="1051" width="1" height="9" fill="#fff"/><use href="#tg" x="488" y="1055"/><use href="#pre" x="527" y="1047" fill="#fff"/><g fill="#fff"><use href="#s81" x="587" y="1047"/><use href="#s53" x="593" y="1047"/><use href="#s69" x="599" y="1047"/><use href="#s78" x="605" y="1047"/><use href="#s84" x="611" y="1047"/><use href="#s53" x="617" y="1047"/></g><rect x="160" y="1065" width="331" height="3" fill="#00cccc"/><rect x="160" y="1062" width="1" height="9" fill="#fff"/><use href="#tc" x="491" y="1066"/><path d="M175 1068 h1 v2 h1 v2 h-3 v-2 h1 Z" fill="#f8f088"/><use href="#pre" x="527" y="1058" fill="#fff"/><g fill="#fff"><use href="#s66" x="587" y="1058"/><use href="#s56" x="593" y="1058"/><use href="#s76" x="599" y="1058"/><use href="#s69" x="605" y="1058"/><use href="#s83" x="611" y="1058"/><use href="#s51" x="617" y="1058"/></g><rect x="10" y="1076" width="517" height="3" fill="#000033"/><rect x="160" y="1076" width="331" height="3" fill="#00cccc"/><rect x="160" y="1073" width="1" height="9" fill="#fff"/><use href="#tc" x="491" y="1077"/><path d="M175 1079 h1 v2 h1 v2 h-3 v-2 h1 Z" fill="#f8f088"/><use href="#pre" x="527" y="1069" fill="#fff"/><g fill="#fff"><use href="#s79" x="587" y="1069"/><use href="#s57" x="593" y="1069"/><use href="#s56" x="599" y="1069"/><use href="#s52" x="605" y="1069"/><use href="#s53" x="611" y="1069"/><use href="#s48" x="617" y="1069"/></g><rect x="160" y="1087" width="331" height="3" fill="#00cccc"/><rect x="160" y="1084" width="1" height="9" fill="#fff"/><use href="#tc" x="491" y="1088"/><use href="#pre" x="527" y="1080" fill="#fff"/><g fill="#fff"><use href="#s80" x="587" y="1080"/><use href="#s48" x="593" y="1080"/><use href="#s55" x="599" y="1080"/><use href="#s52" x="605" y="1080"/><use href="#s56" x="611" y="1080"/><use href="#s52" x="617" y="1080"/></g><rect x="10" y="1098" width="517" height="3" fill="#000033"/><rect x="160" y="1098" width="331" height="3" fill="#00aa00"/><rect x="160" y="1095" width="1" height="9" fill="#fff"/><use href="#tg" x="491" y="1099"/><use href="#pre" x="527" y="1091" fill="#fff"/><g fill="#fff"><use href="#s80" x="587" y="1091"/><use href="#s50" x="593" y="1091"/><use href="#s50" x="599" y="1091"/><use href="#s51" x="605" y="1091"/><use href="#s52" x="611" y="1091"/><use href="#s49" x="617" y="1091"/></g><rect x="196" y="1109" width="295" height="3" fill="#00cccc"/><rect x="196" y="1106" width="1" height="9" fill="#fff"/><use href="#tc" x="491" y="1110"/><use href="#pre" x="527" y="1102" fill="#fff"/><g fill="#fff"><use href="#s81" x="587" y="1102"/><use href="#s50" x="593" y="1102"/><use href="#s74" x="599" y="1102"/><use href="#s85" x="605" y="1102"/><use href="#s77" x="611" y="1102"/><use href="#s48" x="617" y="1102"/></g><rect x="10" y="1120" width="517" height="3" fill="#000033"/><rect x="160" y="1120" width="331" height="3" fill="#00cccc"/><rect x="160" y="1117" width="1" height="9" fill="#fff"/><use href="#tc" x="491" y="1121"/><path d="M168 1123 h1 v2 h1 v2 h-3 v-2 h1 Z" fill="#f8f088"/><use href="#pre" x="527" y="1113" fill="#fff"/><g fill="#fff"><use href="#s79" x="587" y="1113"/><use href="#s51" x="593" y="1113"/><use href="#s48" x="599" y="1113"/><use href="#s53" x="605" y="1113"/><use href="#s56" x="611" y="1113"/><use href="#s50" x="617" y="1113"/></g><rect x="160" y="1131" width="331" height="3" fill="#00cccc"/><rect x="160" y="1128" width="1" height="9" fill="#fff"/><use href="#tc" x="491" y="1132"/><path d="M168 1134 h1 v2 h1 v2 h-3 v-2 h1 Z" fill="#f8f088"/><use href="#pre" x="527" y="1124" fill="#fff"/><g fill="#fff"><use href="#s67" x="587" y="1124"/><use href="#s55" x="593" y="1124"/><use href="#s81" x="599" y="1124"/><use href="#s78" x="605" y="1124"/><use href="#s87" x="611" y="1124"/><use href="#s56" x="617" y="1124"/></g><rect x="10" y="1142" width="517" height="3" fill="#000033"/><rect x="160" y="1142" width="320" height="3" fill="#00cccc"/><rect x="160" y="1139" width="1" height="9" fill="#fff"/><use href="#tc" x="480" y="1143"/><path d="M174 1145 h1 v2 h1 v2 h-3 v-2 h1 Z" fill="#f8f088"/><use href="#pre" x="527" y="1135" fill="#fff"/><g fill="#fff"><use href="#s65" x="587" y="1135"/><use href="#s56" x="593" y="1135"/><use href="#s89" x="599" y="1135"/><use href="#s68" x="605" y="1135"/><use href="#s53" x="611" y="1135"/><use href="#s50" x="617" y="1135"/></g><rect x="138" y="1153" width="350" height="3" fill="#00aa00"/><rect x="138" y="1150" width="1" height="9" fill="#fff"/><use href="#tg" x="488" y="1154"/><use href="#pre" x="527" y="1146" fill="#fff"/><g fill="#fff"><use href="#s81" x="587" y="1146"/><use href="#s57" x="593" y="1146"/><use href="#s51" x="599" y="1146"/><use href="#s88" x="605" y="1146"/><use href="#s74" x="611" y="1146"/><use href="#s57" x="617" y="1146"/></g><rect x="10" y="1164" width="517" height="3" fill="#000033"/><rect x="138" y="1164" width="350" height="3" fill="#00aa00"/><rect x="138" y="1161" width="1" height="9" fill="#fff"/><use href="#tg" x="488" y="1165"/><use href="#pre" x="527" y="1157" fill="#fff"/><g fill="#fff"><use href="#s81" x="587" y="1157"/><use href="#s53" x="593" y="1157"/><use href="#s71" x="599" y="1157"/><use href="#s49" x="605" y="1157"/><use href="#s76" x="611" y="1157"/><use href="#s57" x="617" y="1157"/></g><rect x="10" y="1175" width="478" height="3" fill="#00aa00"/><rect x="39" y="1175" width="5" height="3" fill="#000"/><rect x="39" y="1176" width="5" height="1" fill="#00aa00"/><rect x="56" y="1175" width="5" height="3" fill="#000"/><rect x="56" y="1176" width="5" height="1" fill="#00aa00"/><rect x="10" y="1172" width="1" height="9" fill="#fff"/><use href="#tg" x="488" y="1176"/><use href="#pre" x="527" y="1168" fill="#fff"/><g fill="#fff"><use href="#s66" x="587" y="1168"/><use href="#s54" x="593" y="1168"/><use href="#s83" x="599" y="1168"/><use href="#s80" x="605" y="1168"/><use href="#s54" x="611" y="1168"/><use href="#s49" x="617" y="1168"/></g><rect x="10" y="1186" width="517" height="3" fill="#000033"/><rect x="120" y="1186" width="360" height="3" fill="#00aa00"/><rect x="120" y="1183" width="1" height="9" fill="#fff"/><use href="#tg" x="480" y="1187"/><path d="M144 1189 h1 v2 h1 v2 h-3 v-2 h1 Z" fill="#f8f088"/><use href="#pre" x="527" y="1179" fill="#fff"/><g fill="#fff"><use href="#s65" x="587" y="1179"/><use href="#s57" x="593" y="1179"/><use href="#s83" x="599" y="1179"/><use href="#s90" x="605" y="1179"/><use href="#s89" x="611" y="1179"/><use href="#s54" x="617" y="1179"/></g><rect x="138" y="1197" width="350" height="3" fill="#00aa00"/><rect x="138" y="1194" width="1" height="9" fill="#fff"/><use href="#tg" x="488" y="1198"/><use href="#pre" x="527" y="1190" fill="#fff"/><g fill="#fff"><use href="#s65" x="587" y="1190"/><use href="#s51" x="593" y="1190"/><use href="#s81" x="599" y="1190"/><use href="#s78" x="605" y="1190"/><use href="#s50" x="611" y="1190"/><use href="#s56" x="617" y="1190"/></g><rect x="10" y="1208" width="517" height="3" fill="#000033"/><rect x="160" y="1208" width="328" height="3" fill="#00cccc"/><rect x="160" y="1205" width="1" height="9" fill="#fff"/><use href="#tc" x="488" y="1209"/><use href="#pre" x="527" y="1201" fill="#fff"/><g fill="#fff"><use href="#s80" x="587" y="1201"/><use href="#s56" x="593" y="1201"/><use href="#s51" x="599" y="1201"/><use href="#s53" x="605" y="1201"/><use href="#s50" x="611" y="1201"/><use href="#s51" x="617" y="1201"/></g><rect x="156" y="1219" width="335" height="3" fill="#00cccc"/><rect x="156" y="1216" width="1" height="9" fill="#fff"/><use href="#tc" x="491" y="1220"/><path d="M171 1222 h1 v2 h1 v2 h-3 v-2 h1 Z" fill="#f8f088"/><use href="#pre" x="527" y="1212" fill="#fff"/><g fill="#fff"><use href="#s81" x="587" y="1212"/><use href="#s55" x="593" y="1212"/><use href="#s86" x="599" y="1212"/><use href="#s65" x="605" y="1212"/><use href="#s77" x="611" y="1212"/><use href="#s54" x="617" y="1212"/></g><rect x="10" y="1230" width="517" height="3" fill="#000033"/><rect x="56" y="1230" width="432" height="3" fill="#00aa00"/><rect x="87" y="1230" width="5" height="3" fill="#000"/><rect x="87" y="1231" width="5" height="1" fill="#00aa00"/><rect x="56" y="1227" width="1" height="9" fill="#fff"/><use href="#tg" x="488" y="1231"/><path d="M67 1233 h1 v2 h1 v2 h-3 v-2 h1 Z" fill="#f8f088"/><path d="M75 1233 h1 v2 h1 v2 h-3 v-2 h1 Z" fill="#f8f088"/><use href="#pre" x="527" y="1223" fill="#fff"/><g fill="#fff"><use href="#s67" x="587" y="1223"/><use href="#s53" x="593" y="1223"/><use href="#s89" x="599" y="1223"/><use href="#s76" x="605" y="1223"/><use href="#s71" x="611" y="1223"/><use href="#s52" x="617" y="1223"/></g><rect x="38" y="1241" width="453" height="3" fill="#00aa00"/><rect x="38" y="1238" width="1" height="9" fill="#fff"/><use href="#tg" x="491" y="1242"/><path d="M69 1244 h1 v2 h1 v2 h-3 v-2 h1 Z" fill="#f8f088"/><use href="#pre" x="527" y="1234" fill="#fff"/><g fill="#fff"><use href="#s66" x="587" y="1234"/><use href="#s57" x="593" y="1234"/><use href="#s72" x="599" y="1234"/><use href="#s81" x="605" y="1234"/><use href="#s48" x="611" y="1234"/><use href="#s56" x="617" y="1234"/></g><rect x="10" y="1252" width="517" height="3" fill="#000033"/><rect x="35" y="1252" width="453" height="3" fill="#00aa00"/><rect x="35" y="1249" width="1" height="9" fill="#fff"/><use href="#tg" x="488" y="1253"/><path d="M78 1255 h1 v2 h1 v2 h-3 v-2 h1 Z" fill="#f8f088"/><use href="#pre" x="527" y="1245" fill="#fff"/><g fill="#fff"><use href="#s66" x="587" y="1245"/><use href="#s49" x="593" y="1245"/><use href="#s80" x="599" y="1245"/><use href="#s55" x="605" y="1245"/><use href="#s53" x="611" y="1245"/><use href="#s57" x="617" y="1245"/></g><rect x="117" y="1263" width="371" height="3" fill="#00aa00"/><rect x="117" y="1260" width="1" height="9" fill="#fff"/><use href="#tg" x="488" y="1264"/><use href="#pre" x="527" y="1256" fill="#fff"/><g fill="#fff"><use href="#s65" x="587" y="1256"/><use href="#s57" x="593" y="1256"/><use href="#s83" x="599" y="1256"/><use href="#s52" x="605" y="1256"/><use href="#s74" x="611" y="1256"/><use href="#s48" x="617" y="1256"/></g><rect x="10" y="1274" width="517" height="3" fill="#000033"/><rect x="49" y="1274" width="439" height="3" fill="#00aa00"/><rect x="49" y="1271" width="1" height="9" fill="#fff"/><use href="#tg" x="488" y="1275"/><path d="M88 1277 h1 v2 h1 v2 h-3 v-2 h1 Z" fill="#f8f088"/><use href="#pre" x="527" y="1267" fill="#fff"/><g fill="#fff"><use href="#s80" x="587" y="1267"/><use href="#s48" x="593" y="1267"/><use href="#s48" x="599" y="1267"/><use href="#s50" x="605" y="1267"/><use href="#s50" x="611" y="1267"/><use href="#s56" x="617" y="1267"/></g><rect x="160" y="1285" width="328" height="3" fill="#00cccc"/><rect x="160" y="1282" width="1" height="9" fill="#fff"/><use href="#tc" x="488" y="1286"/><use href="#pre" x="527" y="1278" fill="#fff"/><g fill="#fff"><use href="#s80" x="587" y="1278"/><use href="#s56" x="593" y="1278"/><use href="#s51" x="599" y="1278"/><use href="#s53" x="605" y="1278"/><use href="#s56" x="611" y="1278"/><use href="#s53" x="617" y="1278"/></g><rect x="10" y="1296" width="517" height="3" fill="#000033"/><rect x="160" y="1296" width="328" height="3" fill="#00cccc"/><rect x="160" y="1293" width="1" height="9" fill="#fff"/><use href="#tc" x="488" y="1297"/><use href="#pre" x="527" y="1289" fill="#fff"/><g fill="#fff"><use href="#s80" x="587" y="1289"/><use href="#s56" x="593" y="1289"/><use href="#s52" x="599" y="1289"/><use href="#s56" x="605" y="1289"/><use href="#s55" x="611" y="1289"/><use href="#s50" x="617" y="1289"/></g><rect x="31" y="1307" width="457" height="3" fill="#00aa00"/><rect x="55" y="1307" width="2" height="3" fill="#000"/><rect x="55" y="1308" width="2" height="1" fill="#00aa00"/><rect x="61" y="1307" width="7" height="3" fill="#000"/><rect x="61" y="1308" width="7" height="1" fill="#00aa00"/><rect x="31" y="1304" width="1" height="9" fill="#fff"/><use href="#tg" x="488" y="1308"/><use href="#pre" x="527" y="1300" fill="#fff"/><g fill="#fff"><use href="#s85" x="587" y="1300"/><use href="#s80" x="593" y="1300"/><use href="#s73" x="599" y="1300"/><use href="#s48" x="605" y="1300"/><use href="#s48" x="611" y="1300"/><use href="#s48" x="617" y="1300"/><use href="#s46" x="623" y="1300"/><use href="#s46" x="629" y="1300"/></g><rect x="10" y="1318" width="517" height="3" fill="#000033"/><rect x="160" y="1318" width="331" height="3" fill="#00cccc"/><rect x="160" y="1315" width="1" height="9" fill="#fff"/><use href="#tc" x="491" y="1319"/><path d="M168 1321 h1 v2 h1 v2 h-3 v-2 h1 Z" fill="#f8f088"/><use href="#pre" x="527" y="1311" fill="#fff"/><g fill="#fff"><use href="#s81" x="587" y="1311"/><use href="#s50" x="593" y="1311"/><use href="#s74" x="599" y="1311"/><use href="#s76" x="605" y="1311"/><use href="#s53" x="611" y="1311"/><use href="#s55" x="617" y="1311"/></g><rect x="156" y="1329" width="332" height="3" fill="#00cccc"/><rect x="156" y="1326" width="1" height="9" fill="#fff"/><use href="#tc" x="488" y="1330"/><use href="#pre" x="527" y="1322" fill="#fff"/><g fill="#fff"><use href="#s80" x="587" y="1322"/><use href="#s48" x="593" y="1322"/><use href="#s48" x="599" y="1322"/><use href="#s50" x="605" y="1322"/><use href="#s50" x="611" y="1322"/><use href="#s54" x="617" y="1322"/></g><rect x="10" y="1340" width="517" height="3" fill="#000033"/><rect x="160" y="1340" width="328" height="3" fill="#00aa00"/><rect x="160" y="1337" width="1" height="9" fill="#fff"/><use href="#tg" x="488" y="1341"/><use href="#pre" x="527" y="1333" fill="#fff"/><g fill="#fff"><use href="#s80" x="587" y="1333"/><use href="#s54" x="593" y="1333"/><use href="#s56" x="599" y="1333"/><use href="#s49" x="605" y="1333"/><use href="#s54" x="611" y="1333"/><use href="#s51" x="617" y="1333"/></g><rect x="160" y="1351" width="328" height="3" fill="#00aa00"/><rect x="160" y="1348" width="1" height="9" fill="#fff"/><use href="#tg" x="488" y="1352"/><use href="#pre" x="527" y="1344" fill="#fff"/><g fill="#fff"><use href="#s80" x="587" y="1344"/><use href="#s56" x="593" y="1344"/><use href="#s51" x="599" y="1344"/><use href="#s53" x="605" y="1344"/><use href="#s50" x="611" y="1344"/><use href="#s48" x="617" y="1344"/></g><rect x="10" y="1362" width="517" height="3" fill="#000033"/><rect x="156" y="1362" width="335" height="3" fill="#00cccc"/><rect x="156" y="1359" width="1" height="9" fill="#fff"/><use href="#tc" x="491" y="1363"/><path d="M171 1365 h1 v2 h1 v2 h-3 v-2 h1 Z" fill="#f8f088"/><use href="#pre" x="527" y="1355" fill="#fff"/><g fill="#fff"><use href="#s65" x="587" y="1355"/><use href="#s57" x="593" y="1355"/><use href="#s66" x="599" y="1355"/><use href="#s66" x="605" y="1355"/><use href="#s88" x="611" y="1355"/><use href="#s54" x="617" y="1355"/></g><rect x="156" y="1373" width="335" height="3" fill="#00aa00"/><rect x="156" y="1370" width="1" height="9" fill="#fff"/><use href="#tg" x="491" y="1374"/><path d="M171 1376 h1 v2 h1 v2 h-3 v-2 h1 Z" fill="#f8f088"/><use href="#pre" x="527" y="1366" fill="#fff"/><g fill="#fff"><use href="#s66" x="587" y="1366"/><use href="#s52" x="593" y="1366"/><use href="#s87" x="599" y="1366"/><use href="#s52" x="605" y="1366"/><use href="#s74" x="611" y="1366"/><use href="#s50" x="617" y="1366"/></g><rect x="10" y="1384" width="517" height="3" fill="#000033"/><rect x="160" y="1384" width="331" height="3" fill="#00cccc"/><rect x="160" y="1381" width="1" height="9" fill="#fff"/><use href="#tc" x="491" y="1385"/><use href="#pre" x="527" y="1377" fill="#fff"/><g fill="#fff"><use href="#s66" x="587" y="1377"/><use href="#s52" x="593" y="1377"/><use href="#s66" x="599" y="1377"/><use href="#s50" x="605" y="1377"/><use href="#s53" x="611" y="1377"/><use href="#s52" x="617" y="1377"/></g><rect x="156" y="1395" width="332" height="3" fill="#00aa00"/><rect x="156" y="1392" width="1" height="9" fill="#fff"/><use href="#tg" x="488" y="1396"/><use href="#pre" x="527" y="1388" fill="#fff"/><g fill="#fff"><use href="#s80" x="587" y="1388"/><use href="#s56" x="593" y="1388"/><use href="#s51" x="599" y="1388"/><use href="#s53" x="605" y="1388"/><use href="#s56" x="611" y="1388"/><use href="#s52" x="617" y="1388"/></g><rect x="10" y="1406" width="517" height="3" fill="#000033"/><rect x="160" y="1406" width="328" height="3" fill="#00cccc"/><rect x="160" y="1403" width="1" height="9" fill="#fff"/><use href="#tc" x="488" y="1407"/><use href="#pre" x="527" y="1399" fill="#fff"/><g fill="#fff"><use href="#s80" x="587" y="1399"/><use href="#s56" x="593" y="1399"/><use href="#s51" x="599" y="1399"/><use href="#s53" x="605" y="1399"/><use href="#s50" x="611" y="1399"/><use href="#s52" x="617" y="1399"/></g><rect x="160" y="1417" width="328" height="3" fill="#00aa00"/><rect x="160" y="1414" width="1" height="9" fill="#fff"/><use href="#tg" x="488" y="1418"/><use href="#pre" x="527" y="1410" fill="#fff"/><g fill="#fff"><use href="#s80" x="587" y="1410"/><use href="#s54" x="593" y="1410"/><use href="#s56" x="599" y="1410"/><use href="#s49" x="605" y="1410"/><use href="#s54" x="611" y="1410"/><use href="#s54" x="617" y="1410"/></g><rect x="10" y="1428" width="517" height="3" fill="#000033"/><rect x="160" y="1428" width="331" height="3" fill="#00cccc"/><rect x="160" y="1425" width="1" height="9" fill="#fff"/><use href="#tc" x="491" y="1429"/><path d="M174 1431 h1 v2 h1 v2 h-3 v-2 h1 Z" fill="#f8f088"/><use href="#pre" x="527" y="1421" fill="#fff"/><g fill="#fff"><use href="#s80" x="587" y="1421"/><use href="#s48" x="593" y="1421"/><use href="#s65" x="599" y="1421"/><use href="#s51" x="605" y="1421"/><use href="#s68" x="611" y="1421"/><use href="#s50" x="617" y="1421"/></g><rect x="38" y="1439" width="450" height="3" fill="#00aa00"/><rect x="38" y="1436" width="1" height="9" fill="#fff"/><use href="#tg" x="488" y="1440"/><path d="M80 1442 h1 v2 h1 v2 h-3 v-2 h1 Z" fill="#f8f088"/><use href="#pre" x="527" y="1432" fill="#fff"/><g fill="#fff"><use href="#s80" x="587" y="1432"/><use href="#s50" x="593" y="1432"/><use href="#s55" x="599" y="1432"/><use href="#s55" x="605" y="1432"/><use href="#s56" x="611" y="1432"/><use href="#s55" x="617" y="1432"/></g><rect x="10" y="1450" width="517" height="3" fill="#000033"/><rect x="156" y="1450" width="335" height="3" fill="#00cccc"/><rect x="156" y="1447" width="1" height="9" fill="#fff"/><use href="#tc" x="491" y="1451"/><path d="M171 1453 h1 v2 h1 v2 h-3 v-2 h1 Z" fill="#f8f088"/><use href="#pre" x="527" y="1443" fill="#fff"/><g fill="#fff"><use href="#s81" x="587" y="1443"/><use href="#s55" x="593" y="1443"/><use href="#s86" x="599" y="1443"/><use href="#s48" x="605" y="1443"/><use href="#s66" x="611" y="1443"/><use href="#s54" x="617" y="1443"/></g><rect x="156" y="1461" width="335" height="3" fill="#00cccc"/><rect x="156" y="1458" width="1" height="9" fill="#fff"/><use href="#tc" x="491" y="1462"/><path d="M171 1464 h1 v2 h1 v2 h-3 v-2 h1 Z" fill="#f8f088"/><use href="#pre" x="527" y="1454" fill="#fff"/><g fill="#fff"><use href="#s65" x="587" y="1454"/><use href="#s50" x="593" y="1454"/><use href="#s66" x="599" y="1454"/><use href="#s89" x="605" y="1454"/><use href="#s53" x="611" y="1454"/><use href="#s57" x="617" y="1454"/></g><rect x="10" y="1472" width="517" height="3" fill="#000033"/><rect x="99" y="1472" width="389" height="3" fill="#00aa00"/><rect x="99" y="1469" width="1" height="9" fill="#fff"/><use href="#tg" x="488" y="1473"/><path d="M115 1475 h1 v2 h1 v2 h-3 v-2 h1 Z" fill="#f8f088"/><use href="#pre" x="527" y="1465" fill="#fff"/><g fill="#fff"><use href="#s81" x="587" y="1465"/><use href="#s54" x="593" y="1465"/><use href="#s89" x="599" y="1465"/><use href="#s50" x="605" y="1465"/><use href="#s70" x="611" y="1465"/><use href="#s52" x="617" y="1465"/></g><rect x="156" y="1483" width="332" height="3" fill="#00aa00"/><rect x="156" y="1480" width="1" height="9" fill="#fff"/><use href="#tg" x="488" y="1484"/><use href="#pre" x="527" y="1476" fill="#fff"/><g fill="#fff"><use href="#s80" x="587" y="1476"/><use href="#s56" x="593" y="1476"/><use href="#s51" x="599" y="1476"/><use href="#s53" x="605" y="1476"/><use href="#s50" x="611" y="1476"/><use href="#s54" x="617" y="1476"/></g><rect x="10" y="1494" width="517" height="3" fill="#000033"/><rect x="160" y="1494" width="328" height="3" fill="#00aa00"/><rect x="160" y="1491" width="1" height="9" fill="#fff"/><use href="#tg" x="488" y="1495"/><use href="#pre" x="527" y="1487" fill="#fff"/><g fill="#fff"><use href="#s80" x="587" y="1487"/><use href="#s56" x="593" y="1487"/><use href="#s51" x="599" y="1487"/><use href="#s53" x="605" y="1487"/><use href="#s56" x="611" y="1487"/><use href="#s50" x="617" y="1487"/></g><rect x="27" y="1505" width="461" height="3" fill="#00aa00"/><rect x="39" y="1505" width="9" height="3" fill="#000"/><rect x="39" y="1506" width="9" height="1" fill="#00aa00"/><rect x="58" y="1505" width="7" height="3" fill="#000"/><rect x="58" y="1506" width="7" height="1" fill="#00aa00"/><rect x="27" y="1502" width="1" height="9" fill="#fff"/><use href="#tg" x="488" y="1506"/><use href="#pre" x="527" y="1498" fill="#fff"/><g fill="#fff"><use href="#s80" x="587" y="1498"/><use href="#s48" x="593" y="1498"/><use href="#s52" x="599" y="1498"/><use href="#s54" x="605" y="1498"/><use href="#s54" x="611" y="1498"/><use href="#s57" x="617" y="1498"/></g><rect x="10" y="1516" width="517" height="3" fill="#000033"/><rect x="160" y="1516" width="328" height="3" fill="#00aa00"/><rect x="160" y="1513" width="1" height="9" fill="#fff"/><use href="#tg" x="488" y="1517"/><use href="#pre" x="527" y="1509" fill="#fff"/><g fill="#fff"><use href="#s80" x="587" y="1509"/><use href="#s56" x="593" y="1509"/><use href="#s52" x="599" y="1509"/><use href="#s56" x="605" y="1509"/><use href="#s55" x="611" y="1509"/><use href="#s52" x="617" y="1509"/></g><rect x="138" y="1527" width="353" height="3" fill="#00aa00"/><rect x="138" y="1524" width="1" height="9" fill="#fff"/><use href="#tg" x="491" y="1528"/><use href="#pre" x="527" y="1520" fill="#fff"/><g fill="#fff"><use href="#s81" x="587" y="1520"/><use href="#s55" x="593" y="1520"/><use href="#s88" x="599" y="1520"/><use href="#s86" x="605" y="1520"/><use href="#s71" x="611" y="1520"/><use href="#s55" x="617" y="1520"/></g><rect x="10" y="1538" width="517" height="3" fill="#000033"/><rect x="138" y="1538" width="353" height="3" fill="#00aa00"/><rect x="138" y="1535" width="1" height="9" fill="#fff"/><use href="#tg" x="491" y="1539"/><use href="#pre" x="527" y="1531" fill="#fff"/><g fill="#fff"><use href="#s81" x="587" y="1531"/><use href="#s48" x="593" y="1531"/><use href="#s49" x="599" y="1531"/><use href="#s74" x="605" y="1531"/><use href="#s66" x="611" y="1531"/><use href="#s51" x="617" y="1531"/></g><rect x="160" y="1549" width="328" height="3" fill="#00cccc"/><rect x="160" y="1546" width="1" height="9" fill="#fff"/><use href="#tc" x="488" y="1550"/><use href="#pre" x="527" y="1542" fill="#fff"/><g fill="#fff"><use href="#s66" x="587" y="1542"/><use href="#s57" x="593" y="1542"/><use href="#s83" x="599" y="1542"/><use href="#s88" x="605" y="1542"/><use href="#s70" x="611" y="1542"/><use href="#s52" x="617" y="1542"/></g><rect x="10" y="1560" width="517" height="3" fill="#000033"/><rect x="70" y="1560" width="418" height="3" fill="#00aa00"/><rect x="70" y="1557" width="1" height="9" fill="#fff"/><use href="#tg" x="488" y="1561"/><path d="M86 1563 h1 v2 h1 v2 h-3 v-2 h1 Z" fill="#f8f088"/><use href="#pre" x="527" y="1553" fill="#fff"/><g fill="#fff"><use href="#s66" x="587" y="1553"/><use href="#s49" x="593" y="1553"/><use href="#s80" x="599" y="1553"/><use href="#s55" x="605" y="1553"/><use href="#s53" x="611" y="1553"/><use href="#s56" x="617" y="1553"/></g><rect x="138" y="1571" width="353" height="3" fill="#00aa00"/><rect x="138" y="1568" width="1" height="9" fill="#fff"/><use href="#tg" x="491" y="1572"/><use href="#pre" x="527" y="1564" fill="#fff"/><g fill="#fff"><use href="#s65" x="587" y="1564"/><use href="#s50" x="593" y="1564"/><use href="#s88" x="599" y="1564"/><use href="#s84" x="605" y="1564"/><use href="#s55" x="611" y="1564"/><use href="#s50" x="617" y="1564"/></g><rect x="10" y="1582" width="517" height="3" fill="#000033"/><rect x="160" y="1582" width="328" height="3" fill="#00aa00"/><rect x="160" y="1579" width="1" height="9" fill="#fff"/><use href="#tg" x="488" y="1583"/><use href="#pre" x="527" y="1575" fill="#fff"/><g fill="#fff"><use href="#s80" x="587" y="1575"/><use href="#s48" x="593" y="1575"/><use href="#s48" x="599" y="1575"/><use href="#s50" x="605" y="1575"/><use href="#s51" x="611" y="1575"/><use href="#s51" x="617" y="1575"/></g><rect x="156" y="1593" width="335" height="3" fill="#00cccc"/><rect x="156" y="1590" width="1" height="9" fill="#fff"/><use href="#tc" x="491" y="1594"/><path d="M171 1596 h1 v2 h1 v2 h-3 v-2 h1 Z" fill="#f8f088"/><use href="#pre" x="527" y="1586" fill="#fff"/><g fill="#fff"><use href="#s65" x="587" y="1586"/><use href="#s50" x="593" y="1586"/><use href="#s66" x="599" y="1586"/><use href="#s83" x="605" y="1586"/><use href="#s83" x="611" y="1586"/><use href="#s53" x="617" y="1586"/></g><rect x="10" y="1604" width="517" height="3" fill="#000033"/><rect x="38" y="1604" width="453" height="3" fill="#00aa00"/><rect x="38" y="1601" width="1" height="9" fill="#fff"/><use href="#tg" x="491" y="1605"/><path d="M58 1607 h1 v2 h1 v2 h-3 v-2 h1 Z" fill="#f8f088"/><path d="M80 1607 h1 v2 h1 v2 h-3 v-2 h1 Z" fill="#f8f088"/><use href="#pre" x="527" y="1597" fill="#fff"/><g fill="#fff"><use href="#s81" x="587" y="1597"/><use href="#s50" x="593" y="1597"/><use href="#s73" x="599" y="1597"/><use href="#s65" x="605" y="1597"/><use href="#s54" x="611" y="1597"/><use href="#s49" x="617" y="1597"/></g><rect x="120" y="1615" width="360" height="3" fill="#00aa00"/><rect x="120" y="1612" width="1" height="9" fill="#fff"/><use href="#tg" x="480" y="1616"/><path d="M144 1618 h1 v2 h1 v2 h-3 v-2 h1 Z" fill="#f8f088"/><use href="#pre" x="527" y="1608" fill="#fff"/><g fill="#fff"><use href="#s65" x="587" y="1608"/><use href="#s57" x="593" y="1608"/><use href="#s83" x="599" y="1608"/><use href="#s90" x="605" y="1608"/><use href="#s89" x="611" y="1608"/><use href="#s53" x="617" y="1608"/></g><rect x="10" y="1626" width="517" height="3" fill="#000033"/><rect x="103" y="1626" width="388" height="3" fill="#00aa00"/><rect x="103" y="1623" width="1" height="9" fill="#fff"/><use href="#tg" x="491" y="1627"/><use href="#pre" x="527" y="1619" fill="#fff"/><g fill="#fff"><use href="#s81" x="587" y="1619"/><use href="#s55" x="593" y="1619"/><use href="#s53" x="599" y="1619"/><use href="#s76" x="605" y="1619"/><use href="#s75" x="611" y="1619"/><use href="#s53" x="617" y="1619"/></g><rect x="138" y="1637" width="350" height="3" fill="#00aa00"/><rect x="138" y="1634" width="1" height="9" fill="#fff"/><use href="#tg" x="488" y="1638"/><use href="#pre" x="527" y="1630" fill="#fff"/><g fill="#fff"><use href="#s81" x="587" y="1630"/><use href="#s52" x="593" y="1630"/><use href="#s51" x="599" y="1630"/><use href="#s53" x="605" y="1630"/><use href="#s49" x="611" y="1630"/><use href="#s55" x="617" y="1630"/></g><rect x="10" y="1648" width="517" height="3" fill="#000033"/><rect x="117" y="1648" width="374" height="3" fill="#00aa00"/><rect x="117" y="1645" width="1" height="9" fill="#fff"/><use href="#tg" x="491" y="1649"/><path d="M126 1651 h1 v2 h1 v2 h-3 v-2 h1 Z" fill="#f8f088"/><use href="#pre" x="527" y="1641" fill="#fff"/><g fill="#fff"><use href="#s81" x="587" y="1641"/><use href="#s57" x="593" y="1641"/><use href="#s65" x="599" y="1641"/><use href="#s85" x="605" y="1641"/><use href="#s69" x="611" y="1641"/><use href="#s49" x="617" y="1641"/></g><rect x="45" y="1659" width="443" height="3" fill="#00aa00"/><rect x="69" y="1659" width="5" height="3" fill="#000"/><rect x="69" y="1660" width="5" height="1" fill="#00aa00"/><rect x="45" y="1656" width="1" height="9" fill="#fff"/><use href="#tg" x="488" y="1660"/><use href="#pre" x="527" y="1652" fill="#fff"/><g fill="#fff"><use href="#s81" x="587" y="1652"/><use href="#s50" x="593" y="1652"/><use href="#s72" x="599" y="1652"/><use href="#s90" x="605" y="1652"/><use href="#s50" x="611" y="1652"/><use href="#s53" x="617" y="1652"/></g><rect x="10" y="1670" width="517" height="3" fill="#000033"/><rect x="160" y="1670" width="328" height="3" fill="#00aa00"/><rect x="160" y="1667" width="1" height="9" fill="#fff"/><use href="#tg" x="488" y="1671"/><use href="#pre" x="527" y="1663" fill="#fff"/><g fill="#fff"><use href="#s80" x="587" y="1663"/><use href="#s56" x="593" y="1663"/><use href="#s51" x="599" y="1663"/><use href="#s53" x="605" y="1663"/><use href="#s50" x="611" y="1663"/><use href="#s53" x="617" y="1663"/></g><rect x="156" y="1681" width="335" height="3" fill="#00cccc"/><rect x="156" y="1678" width="1" height="9" fill="#fff"/><use href="#tc" x="491" y="1682"/><use href="#pre" x="527" y="1674" fill="#fff"/><g fill="#fff"><use href="#s81" x="587" y="1674"/><use href="#s53" x="593" y="1674"/><use href="#s89" x="599" y="1674"/><use href="#s66" x="605" y="1674"/><use href="#s68" x="611" y="1674"/><use href="#s52" x="617" y="1674"/></g><rect x="10" y="1692" width="517" height="3" fill="#000033"/><rect x="160" y="1692" width="328" height="3" fill="#00aa00"/><rect x="160" y="1689" width="1" height="9" fill="#fff"/><use href="#tg" x="488" y="1693"/><use href="#pre" x="527" y="1685" fill="#fff"/><g fill="#fff"><use href="#s65" x="587" y="1685"/><use href="#s55" x="593" y="1685"/><use href="#s81" x="599" y="1685"/><use href="#s67" x="605" y="1685"/><use href="#s78" x="611" y="1685"/><use href="#s50" x="617" y="1685"/></g><rect x="160" y="1703" width="331" height="3" fill="#00cccc"/><rect x="160" y="1700" width="1" height="9" fill="#fff"/><use href="#tc" x="491" y="1704"/><path d="M168 1706 h1 v2 h1 v2 h-3 v-2 h1 Z" fill="#f8f088"/><use href="#pre" x="527" y="1696" fill="#fff"/><g fill="#fff"><use href="#s80" x="587" y="1696"/><use href="#s49" x="593" y="1696"/><use href="#s51" x="599" y="1696"/><use href="#s49" x="605" y="1696"/><use href="#s48" x="611" y="1696"/><use href="#s54" x="617" y="1696"/></g><rect x="10" y="1714" width="517" height="3" fill="#000033"/><rect x="160" y="1714" width="328" height="3" fill="#00aa00"/><rect x="160" y="1711" width="1" height="9" fill="#fff"/><use href="#tg" x="488" y="1715"/><use href="#pre" x="527" y="1707" fill="#fff"/><g fill="#fff"><use href="#s80" x="587" y="1707"/><use href="#s56" x="593" y="1707"/><use href="#s49" x="599" y="1707"/><use href="#s51" x="605" y="1707"/><use href="#s55" x="611" y="1707"/><use href="#s51" x="617" y="1707"/></g><rect x="160" y="1725" width="328" height="3" fill="#00aa00"/><rect x="160" y="1722" width="1" height="9" fill="#fff"/><use href="#tg" x="488" y="1726"/><use href="#pre" x="527" y="1718" fill="#fff"/><g fill="#fff"><use href="#s80" x="587" y="1718"/><use href="#s56" x="593" y="1718"/><use href="#s49" x="599" y="1718"/><use href="#s51" x="605" y="1718"/><use href="#s55" x="611" y="1718"/><use href="#s50" x="617" y="1718"/></g><rect x="10" y="1736" width="517" height="3" fill="#000033"/><rect x="74" y="1736" width="414" height="3" fill="#00aa00"/><rect x="90" y="1736" width="4" height="3" fill="#000"/><rect x="90" y="1737" width="4" height="1" fill="#00aa00"/><rect x="74" y="1733" width="1" height="9" fill="#fff"/><use href="#tg" x="488" y="1737"/><path d="M89 1739 h1 v2 h1 v2 h-3 v-2 h1 Z" fill="#f8f088"/><use href="#pre" x="527" y="1729" fill="#fff"/><g fill="#fff"><use href="#s80" x="587" y="1729"/><use href="#s50" x="593" y="1729"/><use href="#s55" x="599" y="1729"/><use href="#s55" x="605" y="1729"/><use href="#s56" x="611" y="1729"/><use href="#s57" x="617" y="1729"/></g><rect x="160" y="1747" width="328" height="3" fill="#00aa00"/><rect x="160" y="1744" width="1" height="9" fill="#fff"/><use href="#tg" x="488" y="1748"/><use href="#pre" x="527" y="1740" fill="#fff"/><g fill="#fff"><use href="#s80" x="587" y="1740"/><use href="#s56" x="593" y="1740"/><use href="#s52" x="599" y="1740"/><use href="#s56" x="605" y="1740"/><use href="#s55" x="611" y="1740"/><use href="#s51" x="617" y="1740"/></g><rect x="10" y="1758" width="517" height="3" fill="#000033"/><rect x="160" y="1758" width="320" height="3" fill="#00cccc"/><rect x="160" y="1755" width="1" height="9" fill="#fff"/><use href="#tc" x="480" y="1759"/><use href="#pre" x="527" y="1751" fill="#fff"/><g fill="#fff"><use href="#s66" x="587" y="1751"/><use href="#s52" x="593" y="1751"/><use href="#s66" x="599" y="1751"/><use href="#s50" x="605" y="1751"/><use href="#s53" x="611" y="1751"/><use href="#s53" x="617" y="1751"/></g><rect x="160" y="1769" width="331" height="3" fill="#00cccc"/><rect x="160" y="1766" width="1" height="9" fill="#fff"/><use href="#tc" x="491" y="1770"/><use href="#pre" x="527" y="1762" fill="#fff"/><g fill="#fff"><use href="#s65" x="587" y="1762"/><use href="#s56" x="593" y="1762"/><use href="#s89" x="599" y="1762"/><use href="#s76" x="605" y="1762"/><use href="#s73" x="611" y="1762"/><use href="#s50" x="617" y="1762"/></g><rect x="10" y="1780" width="517" height="3" fill="#000033"/><rect x="160" y="1780" width="328" height="3" fill="#00aa00"/><rect x="160" y="1777" width="1" height="9" fill="#fff"/><use href="#tg" x="488" y="1781"/><use href="#pre" x="527" y="1773" fill="#fff"/><g fill="#fff"><use href="#s81" x="587" y="1773"/><use href="#s55" x="593" y="1773"/><use href="#s77" x="599" y="1773"/><use href="#s50" x="605" y="1773"/><use href="#s54" x="611" y="1773"/><use href="#s48" x="617" y="1773"/></g><rect x="92" y="1791" width="399" height="3" fill="#00aa00"/><rect x="92" y="1788" width="1" height="9" fill="#fff"/><use href="#tg" x="491" y="1792"/><use href="#pre" x="527" y="1784" fill="#fff"/><g fill="#fff"><use href="#s67" x="587" y="1784"/><use href="#s53" x="593" y="1784"/><use href="#s88" x="599" y="1784"/><use href="#s81" x="605" y="1784"/><use href="#s74" x="611" y="1784"/><use href="#s51" x="617" y="1784"/></g><rect x="10" y="1802" width="517" height="3" fill="#000033"/><rect x="160" y="1802" width="331" height="3" fill="#00aa00"/><rect x="160" y="1799" width="1" height="9" fill="#fff"/><use href="#tg" x="491" y="1803"/><path d="M168 1805 h1 v2 h1 v2 h-3 v-2 h1 Z" fill="#f8f088"/><use href="#pre" x="527" y="1795" fill="#fff"/><g fill="#fff"><use href="#s80" x="587" y="1795"/><use href="#s48" x="593" y="1795"/><use href="#s48" x="599" y="1795"/><use href="#s50" x="605" y="1795"/><use href="#s52" x="611" y="1795"/><use href="#s50" x="617" y="1795"/></g><rect x="160" y="1813" width="331" height="3" fill="#00cccc"/><rect x="160" y="1810" width="1" height="9" fill="#fff"/><use href="#tc" x="491" y="1814"/><use href="#pre" x="527" y="1806" fill="#fff"/><g fill="#fff"><use href="#s80" x="587" y="1806"/><use href="#s48" x="593" y="1806"/><use href="#s48" x="599" y="1806"/><use href="#s50" x="605" y="1806"/><use href="#s53" x="611" y="1806"/><use href="#s50" x="617" y="1806"/></g><rect x="10" y="1824" width="517" height="3" fill="#000033"/><rect x="160" y="1824" width="331" height="3" fill="#00cccc"/><rect x="170" y="1824" width="4" height="3" fill="#000"/><rect x="170" y="1825" width="4" height="1" fill="#00cccc"/><rect x="160" y="1821" width="1" height="9" fill="#fff"/><use href="#tc" x="491" y="1825"/><path d="M177 1827 h1 v2 h1 v2 h-3 v-2 h1 Z" fill="#f8f088"/><use href="#pre" x="527" y="1817" fill="#fff"/><g fill="#fff"><use href="#s81" x="587" y="1817"/><use href="#s54" x="593" y="1817"/><use href="#s66" x="599" y="1817"/><use href="#s56" x="605" y="1817"/><use href="#s89" x="611" y="1817"/><use href="#s50" x="617" y="1817"/></g><rect x="38" y="1835" width="453" height="3" fill="#00aa00"/><rect x="56" y="1835" width="5" height="3" fill="#000"/><rect x="56" y="1836" width="5" height="1" fill="#00aa00"/><rect x="38" y="1832" width="1" height="9" fill="#fff"/><use href="#tg" x="491" y="1836"/><path d="M80 1838 h1 v2 h1 v2 h-3 v-2 h1 Z" fill="#f8f088"/><use href="#pre" x="527" y="1828" fill="#fff"/><g fill="#fff"><use href="#s81" x="587" y="1828"/><use href="#s50" x="593" y="1828"/><use href="#s73" x="599" y="1828"/><use href="#s65" x="605" y="1828"/><use href="#s53" x="611" y="1828"/><use href="#s57" x="617" y="1828"/></g><rect x="10" y="1846" width="517" height="3" fill="#000033"/><rect x="160" y="1846" width="331" height="3" fill="#00aa00"/><rect x="160" y="1843" width="1" height="9" fill="#fff"/><use href="#tg" x="491" y="1847"/><use href="#pre" x="527" y="1839" fill="#fff"/><g fill="#fff"><use href="#s80" x="587" y="1839"/><use href="#s48" x="593" y="1839"/><use href="#s65" x="599" y="1839"/><use href="#s51" x="605" y="1839"/><use href="#s67" x="611" y="1839"/><use href="#s57" x="617" y="1839"/></g><rect x="156" y="1857" width="335" height="3" fill="#00cccc"/><rect x="156" y="1854" width="1" height="9" fill="#fff"/><use href="#tc" x="491" y="1858"/><use href="#pre" x="527" y="1850" fill="#fff"/><g fill="#fff"><use href="#s80" x="587" y="1850"/><use href="#s48" x="593" y="1850"/><use href="#s48" x="599" y="1850"/><use href="#s50" x="605" y="1850"/><use href="#s51" x="611" y="1850"/><use href="#s52" x="617" y="1850"/></g><rect x="10" y="1868" width="517" height="3" fill="#000033"/><rect x="156" y="1868" width="335" height="3" fill="#00aa00"/><rect x="156" y="1865" width="1" height="9" fill="#fff"/><use href="#tg" x="491" y="1869"/><path d="M171 1871 h1 v2 h1 v2 h-3 v-2 h1 Z" fill="#f8f088"/><use href="#pre" x="527" y="1861" fill="#fff"/><g fill="#fff"><use href="#s65" x="587" y="1861"/><use href="#s56" x="593" y="1861"/><use href="#s71" x="599" y="1861"/><use href="#s54" x="605" y="1861"/><use href="#s71" x="611" y="1861"/><use href="#s51" x="617" y="1861"/></g><rect x="31" y="1879" width="457" height="3" fill="#00aa00"/><rect x="55" y="1879" width="2" height="3" fill="#000"/><rect x="55" y="1880" width="2" height="1" fill="#00aa00"/><rect x="31" y="1876" width="1" height="9" fill="#fff"/><use href="#tg" x="488" y="1880"/><path d="M47 1882 h1 v2 h1 v2 h-3 v-2 h1 Z" fill="#f8f088"/><use href="#pre" x="527" y="1872" fill="#fff"/><g fill="#fff"><use href="#s81" x="587" y="1872"/><use href="#s55" x="593" y="1872"/><use href="#s88" x="599" y="1872"/><use href="#s65" x="605" y="1872"/><use href="#s57" x="611" y="1872"/><use href="#s56" x="617" y="1872"/></g><rect x="10" y="1890" width="517" height="3" fill="#000033"/><rect x="70" y="1890" width="418" height="3" fill="#00aa00"/><rect x="70" y="1887" width="1" height="9" fill="#fff"/><use href="#tg" x="488" y="1891"/><path d="M86 1893 h1 v2 h1 v2 h-3 v-2 h1 Z" fill="#f8f088"/><use href="#pre" x="527" y="1883" fill="#fff"/><g fill="#fff"><use href="#s66" x="587" y="1883"/><use href="#s54" x="593" y="1883"/><use href="#s85" x="599" y="1883"/><use href="#s68" x="605" y="1883"/><use href="#s78" x="611" y="1883"/><use href="#s52" x="617" y="1883"/></g><rect x="31" y="1901" width="449" height="3" fill="#00aa00"/><rect x="55" y="1901" width="2" height="3" fill="#000"/><rect x="55" y="1902" width="2" height="1" fill="#00aa00"/><rect x="63" y="1901" width="2" height="3" fill="#000"/><rect x="63" y="1902" width="2" height="1" fill="#00aa00"/><rect x="70" y="1901" width="4" height="3" fill="#000"/><rect x="70" y="1902" width="4" height="1" fill="#00aa00"/><rect x="31" y="1898" width="1" height="9" fill="#fff"/><use href="#tg" x="480" y="1902"/><use href="#pre" x="527" y="1894" fill="#fff"/><g fill="#fff"><use href="#s65" x="587" y="1894"/><use href="#s57" x="593" y="1894"/><use href="#s80" x="599" y="1894"/><use href="#s69" x="605" y="1894"/><use href="#s74" x="611" y="1894"/><use href="#s48" x="617" y="1894"/></g><rect x="10" y="1912" width="517" height="3" fill="#000033"/><rect x="160" y="1912" width="331" height="3" fill="#00cccc"/><rect x="160" y="1909" width="1" height="9" fill="#fff"/><use href="#tc" x="491" y="1913"/><path d="M168 1915 h1 v2 h1 v2 h-3 v-2 h1 Z" fill="#f8f088"/><use href="#pre" x="527" y="1905" fill="#fff"/><g fill="#fff"><use href="#s66" x="587" y="1905"/><use href="#s57" x="593" y="1905"/><use href="#s89" x="599" y="1905"/><use href="#s83" x="605" y="1905"/><use href="#s86" x="611" y="1905"/><use href="#s51" x="617" y="1905"/></g><rect x="156" y="1923" width="335" height="3" fill="#00aa00"/><rect x="156" y="1920" width="1" height="9" fill="#fff"/><use href="#tg" x="491" y="1924"/><path d="M165 1926 h1 v2 h1 v2 h-3 v-2 h1 Z" fill="#f8f088"/><use href="#pre" x="527" y="1916" fill="#fff"/><g fill="#fff"><use href="#s80" x="587" y="1916"/><use href="#s49" x="593" y="1916"/><use href="#s53" x="599" y="1916"/><use href="#s55" x="605" y="1916"/><use href="#s56" x="611" y="1916"/><use href="#s56" x="617" y="1916"/></g><rect x="10" y="1934" width="517" height="3" fill="#000033"/><rect x="160" y="1934" width="328" height="3" fill="#00aa00"/><rect x="160" y="1931" width="1" height="9" fill="#fff"/><use href="#tg" x="488" y="1935"/><use href="#pre" x="527" y="1927" fill="#fff"/><g fill="#fff"><use href="#s80" x="587" y="1927"/><use href="#s56" x="593" y="1927"/><use href="#s51" x="599" y="1927"/><use href="#s53" x="605" y="1927"/><use href="#s56" x="611" y="1927"/><use href="#s51" x="617" y="1927"/></g><rect x="120" y="1945" width="360" height="3" fill="#00aa00"/><rect x="120" y="1942" width="1" height="9" fill="#fff"/><use href="#tg" x="480" y="1946"/><use href="#pre" x="527" y="1938" fill="#fff"/><g fill="#fff"><use href="#s79" x="587" y="1938"/><use href="#s48" x="593" y="1938"/><use href="#s52" x="599" y="1938"/><use href="#s49" x="605" y="1938"/><use href="#s54" x="611" y="1938"/><use href="#s54" x="617" y="1938"/></g><rect x="10" y="1956" width="517" height="3" fill="#000033"/><rect x="156" y="1956" width="332" height="3" fill="#00cccc"/><rect x="156" y="1953" width="1" height="9" fill="#fff"/><use href="#tc" x="488" y="1957"/><use href="#pre" x="527" y="1949" fill="#fff"/><g fill="#fff"><use href="#s80" x="587" y="1949"/><use href="#s48" x="593" y="1949"/><use href="#s55" x="599" y="1949"/><use href="#s56" x="605" y="1949"/><use href="#s51" x="611" y="1949"/><use href="#s56" x="617" y="1949"/></g><rect x="27" y="1967" width="464" height="3" fill="#00aa00"/><rect x="27" y="1964" width="1" height="9" fill="#fff"/><use href="#tg" x="491" y="1968"/><path d="M45 1970 h1 v2 h1 v2 h-3 v-2 h1 Z" fill="#f8f088"/><use href="#pre" x="527" y="1960" fill="#fff"/><g fill="#fff"><use href="#s67" x="587" y="1960"/><use href="#s53" x="593" y="1960"/><use href="#s87" x="599" y="1960"/><use href="#s84" x="605" y="1960"/><use href="#s89" x="611" y="1960"/><use href="#s52" x="617" y="1960"/></g><rect x="10" y="1978" width="517" height="3" fill="#000033"/><rect x="156" y="1978" width="335" height="3" fill="#00cccc"/><rect x="156" y="1975" width="1" height="9" fill="#fff"/><use href="#tc" x="491" y="1979"/><use href="#pre" x="527" y="1971" fill="#fff"/><g fill="#fff"><use href="#s80" x="587" y="1971"/><use href="#s48" x="593" y="1971"/><use href="#s48" x="599" y="1971"/><use href="#s50" x="605" y="1971"/><use href="#s51" x="611" y="1971"/><use href="#s53" x="617" y="1971"/></g><rect x="160" y="1989" width="331" height="3" fill="#00cccc"/><rect x="160" y="1986" width="1" height="9" fill="#fff"/><use href="#tc" x="491" y="1990"/><use href="#pre" x="527" y="1982" fill="#fff"/><g fill="#fff"><use href="#s65" x="587" y="1982"/><use href="#s56" x="593" y="1982"/><use href="#s89" x="599" y="1982"/><use href="#s70" x="605" y="1982"/><use href="#s81" x="611" y="1982"/><use href="#s49" x="617" y="1982"/></g><rect x="10" y="2000" width="517" height="3" fill="#000033"/><rect x="196" y="2000" width="295" height="3" fill="#00cccc"/><rect x="196" y="1997" width="1" height="9" fill="#fff"/><use href="#tc" x="491" y="2001"/><use href="#pre" x="527" y="1993" fill="#fff"/><g fill="#fff"><use href="#s80" x="587" y="1993"/><use href="#s53" x="593" y="1993"/><use href="#s49" x="599" y="1993"/><use href="#s51" x="605" y="1993"/><use href="#s50" x="611" y="1993"/><use href="#s48" x="617" y="1993"/></g><rect x="156" y="2011" width="332" height="3" fill="#00aa00"/><rect x="156" y="2008" width="1" height="9" fill="#fff"/><use href="#tg" x="488" y="2012"/><use href="#pre" x="527" y="2004" fill="#fff"/><g fill="#fff"><use href="#s80" x="587" y="2004"/><use href="#s48" x="593" y="2004"/><use href="#s48" x="599" y="2004"/><use href="#s50" x="605" y="2004"/><use href="#s50" x="611" y="2004"/><use href="#s53" x="617" y="2004"/></g><rect x="10" y="2022" width="517" height="3" fill="#000033"/><rect x="27" y="2022" width="464" height="3" fill="#00aa00"/><rect x="48" y="2022" width="2" height="3" fill="#000"/><rect x="48" y="2023" width="2" height="1" fill="#00aa00"/><rect x="27" y="2019" width="1" height="9" fill="#fff"/><use href="#tg" x="491" y="2023"/><path d="M73 2025 h1 v2 h1 v2 h-3 v-2 h1 Z" fill="#f8f088"/><use href="#pre" x="527" y="2015" fill="#fff"/><g fill="#fff"><use href="#s81" x="587" y="2015"/><use href="#s50" x="593" y="2015"/><use href="#s73" x="599" y="2015"/><use href="#s65" x="605" y="2015"/><use href="#s54" x="611" y="2015"/><use href="#s48" x="617" y="2015"/></g><rect x="67" y="2033" width="410" height="3" fill="#00aa00"/><rect x="67" y="2030" width="1" height="9" fill="#fff"/><use href="#tg" x="477" y="2034"/><path d="M100 2036 h1 v2 h1 v2 h-3 v-2 h1 Z" fill="#f8f088"/><use href="#pre" x="527" y="2026" fill="#fff"/><g fill="#fff"><use href="#s66" x="587" y="2026"/><use href="#s57" x="593" y="2026"/><use href="#s77" x="599" y="2026"/><use href="#s89" x="605" y="2026"/><use href="#s87" x="611" y="2026"/><use href="#s54" x="617" y="2026"/></g><rect x="10" y="2044" width="517" height="3" fill="#000033"/><rect x="160" y="2044" width="328" height="3" fill="#00aa00"/><rect x="160" y="2041" width="1" height="9" fill="#fff"/><use href="#tg" x="488" y="2045"/><use href="#pre" x="527" y="2037" fill="#fff"/><g fill="#fff"><use href="#s80" x="587" y="2037"/><use href="#s56" x="593" y="2037"/><use href="#s51" x="599" y="2037"/><use href="#s53" x="605" y="2037"/><use href="#s50" x="611" y="2037"/><use href="#s50" x="617" y="2037"/></g><rect x="99" y="2055" width="389" height="3" fill="#00aa00"/><rect x="99" y="2052" width="1" height="9" fill="#fff"/><use href="#tg" x="488" y="2056"/><path d="M111 2058 h1 v2 h1 v2 h-3 v-2 h1 Z" fill="#f8f088"/><use href="#pre" x="527" y="2048" fill="#fff"/><g fill="#fff"><use href="#s81" x="587" y="2048"/><use href="#s57" x="593" y="2048"/><use href="#s90" x="599" y="2048"/><use href="#s84" x="605" y="2048"/><use href="#s83" x="611" y="2048"/><use href="#s50" x="617" y="2048"/></g><rect x="10" y="2066" width="517" height="3" fill="#000033"/><rect x="160" y="2066" width="331" height="3" fill="#00cccc"/><rect x="160" y="2063" width="1" height="9" fill="#fff"/><use href="#tc" x="491" y="2067"/><path d="M168 2069 h1 v2 h1 v2 h-3 v-2 h1 Z" fill="#f8f088"/><use href="#pre" x="527" y="2059" fill="#fff"/><g fill="#fff"><use href="#s80" x="587" y="2059"/><use href="#s48" x="593" y="2059"/><use href="#s48" x="599" y="2059"/><use href="#s50" x="605" y="2059"/><use href="#s53" x="611" y="2059"/><use href="#s52" x="617" y="2059"/></g><rect x="160" y="2077" width="331" height="3" fill="#00cccc"/><rect x="160" y="2074" width="1" height="9" fill="#fff"/><use href="#tc" x="491" y="2078"/><path d="M168 2080 h1 v2 h1 v2 h-3 v-2 h1 Z" fill="#f8f088"/><use href="#pre" x="527" y="2070" fill="#fff"/><g fill="#fff"><use href="#s66" x="587" y="2070"/><use href="#s50" x="593" y="2070"/><use href="#s74" x="599" y="2070"/><use href="#s52" x="605" y="2070"/><use href="#s48" x="611" y="2070"/><use href="#s53" x="617" y="2070"/></g><rect x="10" y="2088" width="517" height="3" fill="#000033"/><rect x="153" y="2088" width="338" height="3" fill="#00cccc"/><rect x="153" y="2085" width="1" height="9" fill="#fff"/><use href="#tc" x="491" y="2089"/><path d="M163 2091 h1 v2 h1 v2 h-3 v-2 h1 Z" fill="#f8f088"/><use href="#pre" x="527" y="2081" fill="#fff"/><g fill="#fff"><use href="#s81" x="587" y="2081"/><use href="#s52" x="593" y="2081"/><use href="#s66" x="599" y="2081"/><use href="#s88" x="605" y="2081"/><use href="#s56" x="611" y="2081"/><use href="#s48" x="617" y="2081"/></g><rect x="160" y="2099" width="331" height="3" fill="#00aa00"/><rect x="160" y="2096" width="1" height="9" fill="#fff"/><use href="#tg" x="491" y="2100"/><use href="#pre" x="527" y="2092" fill="#fff"/><g fill="#fff"><use href="#s81" x="587" y="2092"/><use href="#s57" x="593" y="2092"/><use href="#s83" x="599" y="2092"/><use href="#s67" x="605" y="2092"/><use href="#s65" x="611" y="2092"/><use href="#s52" x="617" y="2092"/></g><rect x="10" y="2110" width="517" height="3" fill="#000033"/><rect x="120" y="2110" width="368" height="3" fill="#00aa00"/><rect x="120" y="2107" width="1" height="9" fill="#fff"/><use href="#tg" x="488" y="2111"/><use href="#pre" x="527" y="2103" fill="#fff"/><g fill="#fff"><use href="#s67" x="587" y="2103"/><use href="#s53" x="593" y="2103"/><use href="#s89" x="599" y="2103"/><use href="#s76" x="605" y="2103"/><use href="#s71" x="611" y="2103"/><use href="#s51" x="617" y="2103"/></g><rect x="17" y="2121" width="474" height="3" fill="#00aa00"/><rect x="36" y="2121" width="7" height="3" fill="#000"/><rect x="36" y="2122" width="7" height="1" fill="#00aa00"/><rect x="17" y="2118" width="1" height="9" fill="#fff"/><use href="#tg" x="491" y="2122"/><path d="M59 2124 h1 v2 h1 v2 h-3 v-2 h1 Z" fill="#f8f088"/><use href="#pre" x="527" y="2114" fill="#fff"/><g fill="#fff"><use href="#s66" x="587" y="2114"/><use href="#s57" x="593" y="2114"/><use href="#s72" x="599" y="2114"/><use href="#s75" x="605" y="2114"/><use href="#s80" x="611" y="2114"/><use href="#s55" x="617" y="2114"/></g><rect x="10" y="2132" width="517" height="3" fill="#000033"/><rect x="160" y="2132" width="331" height="3" fill="#00cccc"/><rect x="160" y="2129" width="1" height="9" fill="#fff"/><use href="#tc" x="491" y="2133"/><use href="#pre" x="527" y="2125" fill="#fff"/><g fill="#fff"><use href="#s67" x="587" y="2125"/><use href="#s55" x="593" y="2125"/><use href="#s66" x="599" y="2125"/><use href="#s85" x="605" y="2125"/><use href="#s90" x="611" y="2125"/><use href="#s53" x="617" y="2125"/></g><rect x="138" y="2143" width="353" height="3" fill="#00aa00"/><rect x="138" y="2140" width="1" height="9" fill="#fff"/><use href="#tg" x="491" y="2144"/><use href="#pre" x="527" y="2136" fill="#fff"/><g fill="#fff"><use href="#s67" x="587" y="2136"/><use href="#s54" x="593" y="2136"/><use href="#s84" x="599" y="2136"/><use href="#s78" x="605" y="2136"/><use href="#s90" x="611" y="2136"/><use href="#s52" x="617" y="2136"/></g><rect x="10" y="2154" width="517" height="3" fill="#000033"/><rect x="99" y="2154" width="389" height="3" fill="#00aa00"/><rect x="99" y="2151" width="1" height="9" fill="#fff"/><use href="#tg" x="488" y="2155"/><path d="M113 2157 h1 v2 h1 v2 h-3 v-2 h1 Z" fill="#f8f088"/><use href="#pre" x="527" y="2147" fill="#fff"/><g fill="#fff"><use href="#s66" x="587" y="2147"/><use href="#s57" x="593" y="2147"/><use href="#s71" x="599" y="2147"/><use href="#s72" x="605" y="2147"/><use href="#s74" x="611" y="2147"/><use href="#s49" x="617" y="2147"/></g><rect x="38" y="2165" width="453" height="3" fill="#00aa00"/><rect x="38" y="2162" width="1" height="9" fill="#fff"/><use href="#tg" x="491" y="2166"/><path d="M58 2168 h1 v2 h1 v2 h-3 v-2 h1 Z" fill="#f8f088"/><path d="M80 2168 h1 v2 h1 v2 h-3 v-2 h1 Z" fill="#f8f088"/><use href="#pre" x="527" y="2158" fill="#fff"/><g fill="#fff"><use href="#s65" x="587" y="2158"/><use href="#s55" x="593" y="2158"/><use href="#s89" x="599" y="2158"/><use href="#s88" x="605" y="2158"/><use href="#s84" x="611" y="2158"/><use href="#s48" x="617" y="2158"/></g><rect x="10" y="2176" width="517" height="3" fill="#000033"/><rect x="153" y="2176" width="338" height="3" fill="#00aa00"/><rect x="153" y="2173" width="1" height="9" fill="#fff"/><use href="#tg" x="491" y="2177"/><path d="M170 2179 h1 v2 h1 v2 h-3 v-2 h1 Z" fill="#f8f088"/><use href="#pre" x="527" y="2169" fill="#fff"/><g fill="#fff"><use href="#s65" x="587" y="2169"/><use href="#s48" x="593" y="2169"/><use href="#s84" x="599" y="2169"/><use href="#s48" x="605" y="2169"/><use href="#s67" x="611" y="2169"/><use href="#s56" x="617" y="2169"/></g><rect x="20" y="2187" width="471" height="3" fill="#00aa00"/><rect x="20" y="2184" width="1" height="9" fill="#fff"/><use href="#tg" x="491" y="2188"/><path d="M40 2190 h1 v2 h1 v2 h-3 v-2 h1 Z" fill="#f8f088"/><use href="#pre" x="527" y="2180" fill="#fff"/><g fill="#fff"><use href="#s80" x="587" y="2180"/><use href="#s50" x="593" y="2180"/><use href="#s55" x="599" y="2180"/><use href="#s55" x="605" y="2180"/><use href="#s56" x="611" y="2180"/><use href="#s56" x="617" y="2180"/></g><rect x="10" y="2198" width="517" height="3" fill="#000033"/><rect x="138" y="2198" width="350" height="3" fill="#00cccc"/><rect x="138" y="2195" width="1" height="9" fill="#fff"/><use href="#tc" x="488" y="2199"/><use href="#pre" x="527" y="2191" fill="#fff"/><g fill="#fff"><use href="#s65" x="587" y="2191"/><use href="#s57" x="593" y="2191"/><use href="#s84" x="599" y="2191"/><use href="#s90" x="605" y="2191"/><use href="#s55" x="611" y="2191"/><use href="#s48" x="617" y="2191"/></g><rect x="135" y="2209" width="356" height="3" fill="#00aa00"/><rect x="135" y="2206" width="1" height="9" fill="#fff"/><use href="#tg" x="491" y="2210"/><use href="#pre" x="527" y="2202" fill="#fff"/><g fill="#fff"><use href="#s65" x="587" y="2202"/><use href="#s57" x="593" y="2202"/><use href="#s78" x="599" y="2202"/><use href="#s83" x="605" y="2202"/><use href="#s89" x="611" y="2202"/><use href="#s51" x="617" y="2202"/></g><rect x="10" y="2220" width="517" height="3" fill="#000033"/><rect x="135" y="2220" width="356" height="3" fill="#00aa00"/><rect x="135" y="2217" width="1" height="9" fill="#fff"/><use href="#tg" x="491" y="2221"/><use href="#pre" x="527" y="2213" fill="#fff"/><g fill="#fff"><use href="#s65" x="587" y="2213"/><use href="#s57" x="593" y="2213"/><use href="#s78" x="599" y="2213"/><use href="#s75" x="605" y="2213"/><use href="#s80" x="611" y="2213"/><use href="#s57" x="617" y="2213"/></g><rect x="27" y="2231" width="464" height="3" fill="#00aa00"/><rect x="48" y="2231" width="2" height="3" fill="#000"/><rect x="48" y="2232" width="2" height="1" fill="#00aa00"/><rect x="27" y="2228" width="1" height="9" fill="#fff"/><use href="#tg" x="491" y="2232"/><path d="M73 2234 h1 v2 h1 v2 h-3 v-2 h1 Z" fill="#f8f088"/><use href="#pre" x="527" y="2224" fill="#fff"/><g fill="#fff"><use href="#s65" x="587" y="2224"/><use href="#s55" x="593" y="2224"/><use href="#s89" x="599" y="2224"/><use href="#s88" x="605" y="2224"/><use href="#s84" x="611" y="2224"/><use href="#s50" x="617" y="2224"/></g><rect x="10" y="2242" width="517" height="3" fill="#000033"/><rect x="117" y="2242" width="374" height="3" fill="#00aa00"/><rect x="117" y="2239" width="1" height="9" fill="#fff"/><use href="#tg" x="491" y="2243"/><path d="M126 2245 h1 v2 h1 v2 h-3 v-2 h1 Z" fill="#f8f088"/><use href="#pre" x="527" y="2235" fill="#fff"/><g fill="#fff"><use href="#s67" x="587" y="2235"/><use href="#s54" x="593" y="2235"/><use href="#s83" x="599" y="2235"/><use href="#s86" x="605" y="2235"/><use href="#s83" x="611" y="2235"/><use href="#s51" x="617" y="2235"/></g><rect x="70" y="2253" width="407" height="3" fill="#00aa00"/><rect x="70" y="2250" width="1" height="9" fill="#fff"/><use href="#tg" x="477" y="2254"/><path d="M86 2256 h1 v2 h1 v2 h-3 v-2 h1 Z" fill="#f8f088"/><use href="#pre" x="527" y="2246" fill="#fff"/><g fill="#fff"><use href="#s66" x="587" y="2246"/><use href="#s54" x="593" y="2246"/><use href="#s85" x="599" y="2246"/><use href="#s54" x="605" y="2246"/><use href="#s56" x="611" y="2246"/><use href="#s52" x="617" y="2246"/></g><rect x="10" y="2264" width="517" height="3" fill="#000033"/><rect x="196" y="2264" width="295" height="3" fill="#00cccc"/><rect x="196" y="2261" width="1" height="9" fill="#fff"/><use href="#tc" x="491" y="2265"/><use href="#pre" x="527" y="2257" fill="#fff"/><g fill="#fff"><use href="#s81" x="587" y="2257"/><use href="#s49" x="593" y="2257"/><use href="#s88" x="599" y="2257"/><use href="#s68" x="605" y="2257"/><use href="#s71" x="611" y="2257"/><use href="#s55" x="617" y="2257"/></g><rect x="160" y="2275" width="331" height="3" fill="#00aa00"/><rect x="160" y="2272" width="1" height="9" fill="#fff"/><use href="#tg" x="491" y="2276"/><path d="M175 2278 h1 v2 h1 v2 h-3 v-2 h1 Z" fill="#f8f088"/><use href="#pre" x="527" y="2268" fill="#fff"/><g fill="#fff"><use href="#s80" x="587" y="2268"/><use href="#s52" x="593" y="2268"/><use href="#s57" x="599" y="2268"/><use href="#s53" x="605" y="2268"/><use href="#s50" x="611" y="2268"/><use href="#s50" x="617" y="2268"/></g><rect x="10" y="2286" width="517" height="3" fill="#000033"/><rect x="160" y="2286" width="328" height="3" fill="#00aa00"/><rect x="160" y="2283" width="1" height="9" fill="#fff"/><use href="#tg" x="488" y="2287"/><use href="#pre" x="527" y="2279" fill="#fff"/><g fill="#fff"><use href="#s81" x="587" y="2279"/><use href="#s55" x="593" y="2279"/><use href="#s77" x="599" y="2279"/><use href="#s49" x="605" y="2279"/><use href="#s83" x="611" y="2279"/><use href="#s49" x="617" y="2279"/></g><rect x="138" y="2297" width="350" height="3" fill="#00aa00"/><rect x="138" y="2294" width="1" height="9" fill="#fff"/><use href="#tg" x="488" y="2298"/><use href="#pre" x="527" y="2290" fill="#fff"/><g fill="#fff"><use href="#s67" x="587" y="2290"/><use href="#s54" x="593" y="2290"/><use href="#s83" x="599" y="2290"/><use href="#s88" x="605" y="2290"/><use href="#s49" x="611" y="2290"/><use href="#s52" x="617" y="2290"/></g><rect x="10" y="2308" width="517" height="3" fill="#000033"/><rect x="138" y="2308" width="353" height="3" fill="#00cccc"/><rect x="138" y="2305" width="1" height="9" fill="#fff"/><use href="#tc" x="491" y="2309"/><path d="M147 2311 h1 v2 h1 v2 h-3 v-2 h1 Z" fill="#f8f088"/><use href="#pre" x="527" y="2301" fill="#fff"/><g fill="#fff"><use href="#s66" x="587" y="2301"/><use href="#s57" x="593" y="2301"/><use href="#s82" x="599" y="2301"/><use href="#s80" x="605" y="2301"/><use href="#s84" x="611" y="2301"/><use href="#s49" x="617" y="2301"/></g><rect x="156" y="2319" width="332" height="3" fill="#00aa00"/><rect x="156" y="2316" width="1" height="9" fill="#fff"/><use href="#tg" x="488" y="2320"/><use href="#pre" x="527" y="2312" fill="#fff"/><g fill="#fff"><use href="#s80" x="587" y="2312"/><use href="#s48" x="593" y="2312"/><use href="#s48" x="599" y="2312"/><use href="#s50" x="605" y="2312"/><use href="#s50" x="611" y="2312"/><use href="#s48" x="617" y="2312"/></g><rect x="10" y="2330" width="517" height="3" fill="#000033"/><rect x="156" y="2330" width="332" height="3" fill="#00aa00"/><rect x="156" y="2327" width="1" height="9" fill="#fff"/><use href="#tg" x="488" y="2331"/><use href="#pre" x="527" y="2323" fill="#fff"/><g fill="#fff"><use href="#s80" x="587" y="2323"/><use href="#s56" x="593" y="2323"/><use href="#s51" x="599" y="2323"/><use href="#s53" x="605" y="2323"/><use href="#s50" x="611" y="2323"/><use href="#s55" x="617" y="2323"/></g><rect x="160" y="2341" width="328" height="3" fill="#00cccc"/><rect x="196" y="2341" width="2" height="3" fill="#000"/><rect x="196" y="2342" width="2" height="1" fill="#00cccc"/><rect x="160" y="2338" width="1" height="9" fill="#fff"/><use href="#tc" x="488" y="2342"/><use href="#pre" x="527" y="2334" fill="#fff"/><g fill="#fff"><use href="#s80" x="587" y="2334"/><use href="#s48" x="593" y="2334"/><use href="#s48" x="599" y="2334"/><use href="#s50" x="605" y="2334"/><use href="#s50" x="611" y="2334"/><use href="#s51" x="617" y="2334"/></g><rect x="10" y="2352" width="517" height="3" fill="#000033"/><rect x="160" y="2352" width="331" height="3" fill="#00cccc"/><rect x="160" y="2349" width="1" height="9" fill="#fff"/><use href="#tc" x="491" y="2353"/><use href="#pre" x="527" y="2345" fill="#fff"/><g fill="#fff"><use href="#s80" x="587" y="2345"/><use href="#s51" x="593" y="2345"/><use href="#s49" x="599" y="2345"/><use href="#s57" x="605" y="2345"/><use href="#s54" x="611" y="2345"/><use href="#s53" x="617" y="2345"/></g><rect x="27" y="2363" width="461" height="3" fill="#00aa00"/><rect x="69" y="2363" width="3" height="3" fill="#000"/><rect x="69" y="2364" width="3" height="1" fill="#00aa00"/><rect x="27" y="2360" width="1" height="9" fill="#fff"/><use href="#tg" x="488" y="2364"/><path d="M47 2366 h1 v2 h1 v2 h-3 v-2 h1 Z" fill="#f8f088"/><use href="#pre" x="527" y="2356" fill="#fff"/><g fill="#fff"><use href="#s81" x="587" y="2356"/><use href="#s48" x="593" y="2356"/><use href="#s74" x="599" y="2356"/><use href="#s56" x="605" y="2356"/><use href="#s77" x="611" y="2356"/><use href="#s50" x="617" y="2356"/></g><rect x="10" y="2374" width="517" height="3" fill="#000033"/><rect x="128" y="2374" width="360" height="3" fill="#00aa00"/><rect x="128" y="2371" width="1" height="9" fill="#fff"/><use href="#tg" x="488" y="2375"/><use href="#pre" x="527" y="2367" fill="#fff"/><g fill="#fff"><use href="#s81" x="587" y="2367"/><use href="#s51" x="593" y="2367"/><use href="#s57" x="599" y="2367"/><use href="#s54" x="605" y="2367"/><use href="#s52" x="611" y="2367"/><use href="#s56" x="617" y="2367"/></g><rect x="128" y="2385" width="363" height="3" fill="#00aa00"/><rect x="128" y="2382" width="1" height="9" fill="#fff"/><use href="#tg" x="491" y="2386"/><use href="#pre" x="527" y="2378" fill="#fff"/><g fill="#fff"><use href="#s81" x="587" y="2378"/><use href="#s48" x="593" y="2378"/><use href="#s48" x="599" y="2378"/><use href="#s71" x="605" y="2378"/><use href="#s77" x="611" y="2378"/><use href="#s48" x="617" y="2378"/></g><rect x="10" y="2396" width="517" height="3" fill="#000033"/><rect x="138" y="2396" width="350" height="3" fill="#00cccc"/><rect x="138" y="2393" width="1" height="9" fill="#fff"/><use href="#tc" x="488" y="2397"/><use href="#pre" x="527" y="2389" fill="#fff"/><g fill="#fff"><use href="#s67" x="587" y="2389"/><use href="#s54" x="593" y="2389"/><use href="#s84" x="599" y="2389"/><use href="#s50" x="605" y="2389"/><use href="#s54" x="611" y="2389"/><use href="#s53" x="617" y="2389"/></g><rect x="95" y="2407" width="393" height="3" fill="#00aa00"/><rect x="95" y="2404" width="1" height="9" fill="#fff"/><use href="#tg" x="488" y="2408"/><use href="#pre" x="527" y="2400" fill="#fff"/><g fill="#fff"><use href="#s66" x="587" y="2400"/><use href="#s54" x="593" y="2400"/><use href="#s85" x="599" y="2400"/><use href="#s67" x="605" y="2400"/><use href="#s55" x="611" y="2400"/><use href="#s51" x="617" y="2400"/></g><rect x="10" y="2418" width="517" height="3" fill="#000033"/><rect x="95" y="2418" width="396" height="3" fill="#00aa00"/><rect x="95" y="2415" width="1" height="9" fill="#fff"/><use href="#tg" x="491" y="2419"/><path d="M119 2421 h1 v2 h1 v2 h-3 v-2 h1 Z" fill="#f8f088"/><use href="#pre" x="527" y="2411" fill="#fff"/><g fill="#fff"><use href="#s65" x="587" y="2411"/><use href="#s55" x="593" y="2411"/><use href="#s89" x="599" y="2411"/><use href="#s88" x="605" y="2411"/><use href="#s84" x="611" y="2411"/><use href="#s51" x="617" y="2411"/></g><rect x="95" y="2429" width="393" height="3" fill="#00aa00"/><rect x="95" y="2426" width="1" height="9" fill="#fff"/><use href="#tg" x="488" y="2430"/><use href="#pre" x="527" y="2422" fill="#fff"/><g fill="#fff"><use href="#s79" x="587" y="2422"/><use href="#s56" x="593" y="2422"/><use href="#s48" x="599" y="2422"/><use href="#s52" x="605" y="2422"/><use href="#s50" x="611" y="2422"/><use href="#s57" x="617" y="2422"/></g><rect x="10" y="2440" width="517" height="3" fill="#000033"/><rect x="138" y="2440" width="353" height="3" fill="#00aa00"/><rect x="138" y="2437" width="1" height="9" fill="#fff"/><use href="#tg" x="491" y="2441"/><use href="#pre" x="527" y="2433" fill="#fff"/><g fill="#fff"><use href="#s67" x="587" y="2433"/><use href="#s54" x="593" y="2433"/><use href="#s84" x="599" y="2433"/><use href="#s67" x="605" y="2433"/><use href="#s84" x="611" y="2433"/><use href="#s48" x="617" y="2433"/></g><rect x="38" y="2451" width="453" height="3" fill="#00aa00"/><rect x="38" y="2448" width="1" height="9" fill="#fff"/><use href="#tg" x="491" y="2452"/><path d="M58 2454 h1 v2 h1 v2 h-3 v-2 h1 Z" fill="#f8f088"/><path d="M80 2454 h1 v2 h1 v2 h-3 v-2 h1 Z" fill="#f8f088"/><use href="#pre" x="527" y="2444" fill="#fff"/><g fill="#fff"><use href="#s65" x="587" y="2444"/><use href="#s55" x="593" y="2444"/><use href="#s89" x="599" y="2444"/><use href="#s88" x="605" y="2444"/><use href="#s84" x="611" y="2444"/><use href="#s49" x="617" y="2444"/></g><rect x="10" y="2462" width="517" height="3" fill="#000033"/><rect x="138" y="2462" width="353" height="3" fill="#00aa00"/><rect x="138" y="2459" width="1" height="9" fill="#fff"/><use href="#tg" x="491" y="2463"/><use href="#pre" x="527" y="2455" fill="#fff"/><g fill="#fff"><use href="#s65" x="587" y="2455"/><use href="#s51" x="593" y="2455"/><use href="#s81" x="599" y="2455"/><use href="#s77" x="605" y="2455"/><use href="#s68" x="611" y="2455"/><use href="#s56" x="617" y="2455"/></g><rect x="156" y="2473" width="332" height="3" fill="#00cccc"/><rect x="164" y="2473" width="5" height="3" fill="#000"/><rect x="164" y="2474" width="5" height="1" fill="#00cccc"/><rect x="156" y="2470" width="1" height="9" fill="#fff"/><use href="#tc" x="488" y="2474"/><use href="#pre" x="527" y="2466" fill="#fff"/><g fill="#fff"><use href="#s81" x="587" y="2466"/><use href="#s55" x="593" y="2466"/><use href="#s85" x="599" y="2466"/><use href="#s54" x="605" y="2466"/><use href="#s74" x="611" y="2466"/><use href="#s53" x="617" y="2466"/></g><rect x="10" y="2484" width="517" height="3" fill="#000033"/><rect x="156" y="2484" width="332" height="3" fill="#00aa00"/><rect x="156" y="2481" width="1" height="9" fill="#fff"/><use href="#tg" x="488" y="2485"/><use href="#pre" x="527" y="2477" fill="#fff"/><g fill="#fff"><use href="#s81" x="587" y="2477"/><use href="#s51" x="593" y="2477"/><use href="#s65" x="599" y="2477"/><use href="#s73" x="605" y="2477"/><use href="#s70" x="611" y="2477"/><use href="#s55" x="617" y="2477"/></g><rect x="160" y="2495" width="331" height="3" fill="#00aa00"/><rect x="160" y="2492" width="1" height="9" fill="#fff"/><use href="#tg" x="491" y="2496"/><use href="#pre" x="527" y="2488" fill="#fff"/><g fill="#fff"><use href="#s80" x="587" y="2488"/><use href="#s48" x="593" y="2488"/><use href="#s48" x="599" y="2488"/><use href="#s50" x="605" y="2488"/><use href="#s53" x="611" y="2488"/><use href="#s51" x="617" y="2488"/></g><rect x="10" y="2506" width="517" height="3" fill="#000033"/><rect x="160" y="2506" width="331" height="3" fill="#00aa00"/><rect x="160" y="2503" width="1" height="9" fill="#fff"/><use href="#tg" x="491" y="2507"/><use href="#pre" x="527" y="2499" fill="#fff"/><g fill="#fff"><use href="#s80" x="587" y="2499"/><use href="#s48" x="593" y="2499"/><use href="#s65" x="599" y="2499"/><use href="#s51" x="605" y="2499"/><use href="#s67" x="611" y="2499"/><use href="#s55" x="617" y="2499"/></g><rect x="156" y="2517" width="332" height="3" fill="#00aa00"/><rect x="156" y="2514" width="1" height="9" fill="#fff"/><use href="#tg" x="488" y="2518"/><use href="#pre" x="527" y="2510" fill="#fff"/><g fill="#fff"><use href="#s68" x="587" y="2510"/><use href="#s48" x="593" y="2510"/><use href="#s67" x="599" y="2510"/><use href="#s75" x="605" y="2510"/><use href="#s90" x="611" y="2510"/><use href="#s56" x="617" y="2510"/></g><rect x="10" y="2528" width="517" height="3" fill="#000033"/><rect x="20" y="2528" width="471" height="3" fill="#00aa00"/><rect x="20" y="2525" width="1" height="9" fill="#fff"/><use href="#tg" x="491" y="2529"/><path d="M45 2531 h1 v2 h1 v2 h-3 v-2 h1 Z" fill="#f8f088"/><path d="M54 2531 h1 v2 h1 v2 h-3 v-2 h1 Z" fill="#f8f088"/><use href="#pre" x="527" y="2521" fill="#fff"/><g fill="#fff"><use href="#s65" x="587" y="2521"/><use href="#s57" x="593" y="2521"/><use href="#s80" x="599" y="2521"/><use href="#s71" x="605" y="2521"/><use href="#s86" x="611" y="2521"/><use href="#s55" x="617" y="2521"/></g><rect x="138" y="2539" width="353" height="3" fill="#00aa00"/><rect x="138" y="2536" width="1" height="9" fill="#fff"/><use href="#tg" x="491" y="2540"/><use href="#pre" x="527" y="2532" fill="#fff"/><g fill="#fff"><use href="#s81" x="587" y="2532"/><use href="#s56" x="593" y="2532"/><use href="#s83" x="599" y="2532"/><use href="#s51" x="605" y="2532"/><use href="#s74" x="611" y="2532"/><use href="#s53" x="617" y="2532"/></g><rect x="10" y="2550" width="517" height="3" fill="#000033"/><rect x="24" y="2550" width="467" height="3" fill="#00aa00"/><rect x="24" y="2547" width="1" height="9" fill="#fff"/><use href="#tg" x="491" y="2551"/><path d="M71 2553 h1 v2 h1 v2 h-3 v-2 h1 Z" fill="#f8f088"/><use href="#pre" x="527" y="2543" fill="#fff"/><g fill="#fff"><use href="#s66" x="587" y="2543"/><use href="#s54" x="593" y="2543"/><use href="#s84" x="599" y="2543"/><use href="#s54" x="605" y="2543"/><use href="#s50" x="611" y="2543"/><use href="#s54" x="617" y="2543"/></g><rect x="110" y="2561" width="370" height="3" fill="#00aa00"/><rect x="110" y="2558" width="1" height="9" fill="#fff"/><use href="#tg" x="480" y="2562"/><use href="#pre" x="527" y="2554" fill="#fff"/><g fill="#fff"><use href="#s65" x="587" y="2554"/><use href="#s57" x="593" y="2554"/><use href="#s80" x="599" y="2554"/><use href="#s72" x="605" y="2554"/><use href="#s48" x="611" y="2554"/><use href="#s54" x="617" y="2554"/></g><rect x="10" y="2572" width="517" height="3" fill="#000033"/><rect x="138" y="2572" width="353" height="3" fill="#00aa00"/><rect x="138" y="2569" width="1" height="9" fill="#fff"/><use href="#tg" x="491" y="2573"/><use href="#pre" x="527" y="2565" fill="#fff"/><g fill="#fff"><use href="#s85" x="587" y="2565"/><use href="#s80" x="593" y="2565"/><use href="#s73" x="599" y="2565"/><use href="#s48" x="605" y="2565"/><use href="#s48" x="611" y="2565"/><use href="#s48" x="617" y="2565"/><use href="#s46" x="623" y="2565"/><use href="#s46" x="629" y="2565"/></g><rect x="128" y="2583" width="363" height="3" fill="#00aa00"/><rect x="128" y="2580" width="1" height="9" fill="#fff"/><use href="#tg" x="491" y="2584"/><use href="#pre" x="527" y="2576" fill="#fff"/><g fill="#fff"><use href="#s85" x="587" y="2576"/><use href="#s80" x="593" y="2576"/><use href="#s73" x="599" y="2576"/><use href="#s48" x="605" y="2576"/><use href="#s48" x="611" y="2576"/><use href="#s48" x="617" y="2576"/><use href="#s46" x="623" y="2576"/><use href="#s46" x="629" y="2576"/></g><rect x="10" y="2594" width="517" height="3" fill="#000033"/><rect x="192" y="2594" width="296" height="3" fill="#00cccc"/><rect x="192" y="2591" width="1" height="9" fill="#fff"/><use href="#tc" x="488" y="2595"/><use href="#pre" x="527" y="2587" fill="#fff"/><g fill="#fff"><use href="#s65" x="587" y="2587"/><use href="#s53" x="593" y="2587"/><use href="#s71" x="599" y="2587"/><use href="#s84" x="605" y="2587"/><use href="#s78" x="611" y="2587"/><use href="#s51" x="617" y="2587"/></g><rect x="117" y="2605" width="374" height="3" fill="#00aa00"/><rect x="117" y="2602" width="1" height="9" fill="#fff"/><use href="#tg" x="491" y="2606"/><path d="M133 2608 h1 v2 h1 v2 h-3 v-2 h1 Z" fill="#f8f088"/><use href="#pre" x="527" y="2598" fill="#fff"/><g fill="#fff"><use href="#s81" x="587" y="2598"/><use href="#s53" x="593" y="2598"/><use href="#s78" x="599" y="2598"/><use href="#s55" x="605" y="2598"/><use href="#s67" x="611" y="2598"/><use href="#s51" x="617" y="2598"/></g><rect x="10" y="2616" width="517" height="3" fill="#000033"/><rect x="128" y="2616" width="363" height="3" fill="#00aa00"/><rect x="128" y="2613" width="1" height="9" fill="#fff"/><use href="#tg" x="491" y="2617"/><use href="#pre" x="527" y="2609" fill="#fff"/><g fill="#fff"><use href="#s65" x="587" y="2609"/><use href="#s53" x="593" y="2609"/><use href="#s66" x="599" y="2609"/><use href="#s51" x="605" y="2609"/><use href="#s67" x="611" y="2609"/><use href="#s55" x="617" y="2609"/></g><rect x="20" y="2627" width="457" height="3" fill="#00aa00"/><rect x="20" y="2624" width="1" height="9" fill="#fff"/><use href="#tg" x="477" y="2628"/><path d="M46 2630 h1 v2 h1 v2 h-3 v-2 h1 Z" fill="#f8f088"/><path d="M61 2630 h1 v2 h1 v2 h-3 v-2 h1 Z" fill="#f8f088"/><use href="#pre" x="527" y="2620" fill="#fff"/><g fill="#fff"><use href="#s67" x="587" y="2620"/><use href="#s53" x="593" y="2620"/><use href="#s76" x="599" y="2620"/><use href="#s87" x="605" y="2620"/><use href="#s90" x="611" y="2620"/><use href="#s49" x="617" y="2620"/></g><rect x="10" y="2638" width="517" height="3" fill="#000033"/><rect x="17" y="2638" width="460" height="3" fill="#00aa00"/><rect x="30" y="2638" width="3" height="3" fill="#000"/><rect x="30" y="2639" width="3" height="1" fill="#00aa00"/><rect x="46" y="2638" width="5" height="3" fill="#000"/><rect x="46" y="2639" width="5" height="1" fill="#00aa00"/><rect x="17" y="2635" width="1" height="9" fill="#fff"/><use href="#tg" x="477" y="2639"/><path d="M59 2641 h1 v2 h1 v2 h-3 v-2 h1 Z" fill="#f8f088"/><use href="#pre" x="527" y="2631" fill="#fff"/><g fill="#fff"><use href="#s67" x="587" y="2631"/><use href="#s53" x="593" y="2631"/><use href="#s75" x="599" y="2631"/><use href="#s75" x="605" y="2631"/><use href="#s65" x="611" y="2631"/><use href="#s51" x="617" y="2631"/></g><rect x="24" y="2649" width="467" height="3" fill="#00aa00"/><rect x="24" y="2646" width="1" height="9" fill="#fff"/><use href="#tg" x="491" y="2650"/><path d="M71 2652 h1 v2 h1 v2 h-3 v-2 h1 Z" fill="#f8f088"/><use href="#pre" x="527" y="2642" fill="#fff"/><g fill="#fff"><use href="#s80" x="587" y="2642"/><use href="#s57" x="593" y="2642"/><use href="#s52" x="599" y="2642"/><use href="#s48" x="605" y="2642"/><use href="#s52" x="611" y="2642"/><use href="#s52" x="617" y="2642"/></g><rect x="10" y="2660" width="517" height="3" fill="#000033"/><rect x="160" y="2660" width="331" height="3" fill="#00aa00"/><rect x="160" y="2657" width="1" height="9" fill="#fff"/><use href="#tg" x="491" y="2661"/><path d="M174 2663 h1 v2 h1 v2 h-3 v-2 h1 Z" fill="#f8f088"/><use href="#pre" x="527" y="2653" fill="#fff"/><g fill="#fff"><use href="#s81" x="587" y="2653"/><use href="#s55" x="593" y="2653"/><use href="#s77" x="599" y="2653"/><use href="#s50" x="605" y="2653"/><use href="#s53" x="611" y="2653"/><use href="#s57" x="617" y="2653"/></g><rect x="160" y="2671" width="320" height="3" fill="#00aa00"/><rect x="160" y="2668" width="1" height="9" fill="#fff"/><use href="#tg" x="480" y="2672"/><use href="#pre" x="527" y="2664" fill="#fff"/><g fill="#fff"><use href="#s80" x="587" y="2664"/><use href="#s56" x="593" y="2664"/><use href="#s53" x="599" y="2664"/><use href="#s49" x="605" y="2664"/><use href="#s50" x="611" y="2664"/><use href="#s49" x="617" y="2664"/></g><rect x="10" y="2682" width="517" height="3" fill="#000033"/><rect x="138" y="2682" width="350" height="3" fill="#00aa00"/><rect x="138" y="2679" width="1" height="9" fill="#fff"/><use href="#tg" x="488" y="2683"/><use href="#pre" x="527" y="2675" fill="#fff"/><g fill="#fff"><use href="#s66" x="587" y="2675"/><use href="#s57" x="593" y="2675"/><use href="#s83" x="599" y="2675"/><use href="#s67" x="605" y="2675"/><use href="#s85" x="611" y="2675"/><use href="#s48" x="617" y="2675"/></g><rect x="196" y="2693" width="295" height="3" fill="#00cccc"/><rect x="196" y="2690" width="1" height="9" fill="#fff"/><use href="#tc" x="491" y="2694"/><use href="#pre" x="527" y="2686" fill="#fff"/><g fill="#fff"><use href="#s66" x="587" y="2686"/><use href="#s50" x="593" y="2686"/><use href="#s88" x="599" y="2686"/><use href="#s84" x="605" y="2686"/><use href="#s71" x="611" y="2686"/><use href="#s51" x="617" y="2686"/></g><rect x="10" y="2704" width="517" height="3" fill="#000033"/><rect x="196" y="2704" width="292" height="3" fill="#00aa00"/><rect x="196" y="2701" width="1" height="9" fill="#fff"/><use href="#tg" x="488" y="2705"/><use href="#pre" x="527" y="2697" fill="#fff"/><g fill="#fff"><use href="#s66" x="587" y="2697"/><use href="#s48" x="593" y="2697"/><use href="#s67" x="599" y="2697"/><use href="#s67" x="605" y="2697"/><use href="#s86" x="611" y="2697"/><use href="#s54" x="617" y="2697"/></g><rect x="156" y="2715" width="335" height="3" fill="#00aa00"/><rect x="156" y="2712" width="1" height="9" fill="#fff"/><use href="#tg" x="491" y="2716"/><use href="#pre" x="527" y="2708" fill="#fff"/><g fill="#fff"><use href="#s81" x="587" y="2708"/><use href="#s48" x="593" y="2708"/><use href="#s54" x="599" y="2708"/><use href="#s54" x="605" y="2708"/><use href="#s71" x="611" y="2708"/><use href="#s48" x="617" y="2708"/></g><rect x="10" y="2726" width="517" height="3" fill="#000033"/><rect x="192" y="2726" width="296" height="3" fill="#00cccc"/><rect x="192" y="2723" width="1" height="9" fill="#fff"/><use href="#tc" x="488" y="2727"/><use href="#pre" x="527" y="2719" fill="#fff"/><g fill="#fff"><use href="#s68" x="587" y="2719"/><use href="#s48" x="593" y="2719"/><use href="#s67" x="599" y="2719"/><use href="#s74" x="605" y="2719"/><use href="#s71" x="611" y="2719"/><use href="#s53" x="617" y="2719"/></g><rect x="160" y="2737" width="331" height="3" fill="#00aa00"/><rect x="160" y="2734" width="1" height="9" fill="#fff"/><use href="#tg" x="491" y="2738"/><use href="#pre" x="527" y="2730" fill="#fff"/><g fill="#fff"><use href="#s66" x="587" y="2730"/><use href="#s56" x="593" y="2730"/><use href="#s65" x="599" y="2730"/><use href="#s49" x="605" y="2730"/><use href="#s75" x="611" y="2730"/><use href="#s56" x="617" y="2730"/></g><rect x="10" y="2748" width="517" height="3" fill="#000033"/><rect x="160" y="2748" width="331" height="3" fill="#00aa00"/><rect x="160" y="2745" width="1" height="9" fill="#fff"/><use href="#tg" x="491" y="2749"/><use href="#pre" x="527" y="2741" fill="#fff"/><g fill="#fff"><use href="#s65" x="587" y="2741"/><use href="#s57" x="593" y="2741"/><use href="#s78" x="599" y="2741"/><use href="#s90" x="605" y="2741"/><use href="#s73" x="611" y="2741"/><use href="#s54" x="617" y="2741"/></g><rect x="181" y="2759" width="307" height="3" fill="#00aa00"/><rect x="181" y="2756" width="1" height="9" fill="#fff"/><use href="#tg" x="488" y="2760"/><use href="#pre" x="527" y="2752" fill="#fff"/><g fill="#fff"><use href="#s65" x="587" y="2752"/><use href="#s52" x="593" y="2752"/><use href="#s67" x="599" y="2752"/><use href="#s86" x="605" y="2752"/><use href="#s80" x="611" y="2752"/><use href="#s51" x="617" y="2752"/></g><rect x="10" y="2770" width="517" height="3" fill="#000033"/><rect x="77" y="2770" width="414" height="3" fill="#00aa00"/><rect x="98" y="2770" width="4" height="3" fill="#000"/><rect x="98" y="2771" width="4" height="1" fill="#00aa00"/><rect x="77" y="2767" width="1" height="9" fill="#fff"/><use href="#tg" x="491" y="2771"/><use href="#pre" x="527" y="2763" fill="#fff"/><g fill="#fff"><use href="#s67" x="587" y="2763"/><use href="#s48" x="593" y="2763"/><use href="#s80" x="599" y="2763"/><use href="#s56" x="605" y="2763"/><use href="#s67" x="611" y="2763"/><use href="#s56" x="617" y="2763"/></g><rect x="35" y="2781" width="456" height="3" fill="#00aa00"/><rect x="35" y="2778" width="1" height="9" fill="#fff"/><use href="#tg" x="491" y="2782"/><path d="M64 2784 h1 v2 h1 v2 h-3 v-2 h1 Z" fill="#f8f088"/><use href="#pre" x="527" y="2774" fill="#fff"/><g fill="#fff"><use href="#s66" x="587" y="2774"/><use href="#s55" x="593" y="2774"/><use href="#s70" x="599" y="2774"/><use href="#s72" x="605" y="2774"/><use href="#s51" x="611" y="2774"/><use href="#s55" x="617" y="2774"/></g><rect x="10" y="2792" width="517" height="3" fill="#000033"/><rect x="398" y="2789" width="1" height="9" fill="#fff"/><rect x="110" y="2792" width="391" height="3" fill="#00aa00"/><rect x="110" y="2789" width="1" height="9" fill="#fff"/><use href="#tg" x="412" y="2793"/><use href="#tg" x="501" y="2793"/><use href="#pre" x="527" y="2785" fill="#fff"/><g fill="#fff"><use href="#s81" x="587" y="2785"/><use href="#s53" x="593" y="2785"/><use href="#s69" x="599" y="2785"/><use href="#s78" x="605" y="2785"/><use href="#s84" x="611" y="2785"/><use href="#s51" x="617" y="2785"/></g><g fill="#fff"><use href="#s76" x="10" y="2804"/><use href="#s97" x="16" y="2804"/><use href="#s114" x="22" y="2804"/><use href="#s103" x="28" y="2804"/><use href="#s101" x="34" y="2804"/><use href="#s103" x="46" y="2804"/><use href="#s97" x="52" y="2804"/><use href="#s112" x="58" y="2804"/><use href="#s115" x="64" y="2804"/><use href="#s58" x="70" y="2804"/></g><rect x="82" y="2808" width="1" height="2" fill="#f8f088"/><rect x="81" y="2810" width="3" height="3" fill="#f8f088"/><rect x="80" y="2813" width="5" height="2" fill="#f8f088"/><g fill="#fff"><use href="#s40" x="88" y="2804"/><use href="#s105" x="94" y="2804"/><use href="#s110" x="100" y="2804"/><use href="#s81" x="112" y="2804"/><use href="#s117" x="118" y="2804"/><use href="#s101" x="124" y="2804"/><use href="#s114" x="130" y="2804"/><use href="#s121" x="136" y="2804"/><use href="#s41" x="142" y="2804"/><use href="#s47" x="148" y="2804"/></g><rect x="155" y="2811" width="6" height="1" fill="#00cccc"/><g fill="#fff"><use href="#s40" x="166" y="2804"/><use href="#s105" x="172" y="2804"/><use href="#s110" x="178" y="2804"/><use href="#s83" x="190" y="2804"/><use href="#s117" x="196" y="2804"/><use href="#s98" x="202" y="2804"/><use href="#s106" x="208" y="2804"/><use href="#s101" x="214" y="2804"/><use href="#s99" x="220" y="2804"/><use href="#s116" x="226" y="2804"/><use href="#s41" x="232" y="2804"/></g><rect x="438" y="2807" width="1" height="9" fill="#333300"/><rect x="456" y="2807" width="1" height="9" fill="#333300"/><rect x="439" y="2810" width="17" height="3" fill="#00cccc"/><g fill="#fff"><use href="#s61" x="460" y="2804"/><use href="#s49" x="466" y="2804"/><use href="#s48" x="472" y="2804"/><use href="#s48" x="478" y="2804"/><use href="#s99" x="484" y="2804"/><use href="#s104" x="490" y="2804"/><use href="#s97" x="496" y="2804"/><use href="#s114" x="502" y="2804"/><use href="#s46" x="508" y="2804"/></g></svg></body></html>
